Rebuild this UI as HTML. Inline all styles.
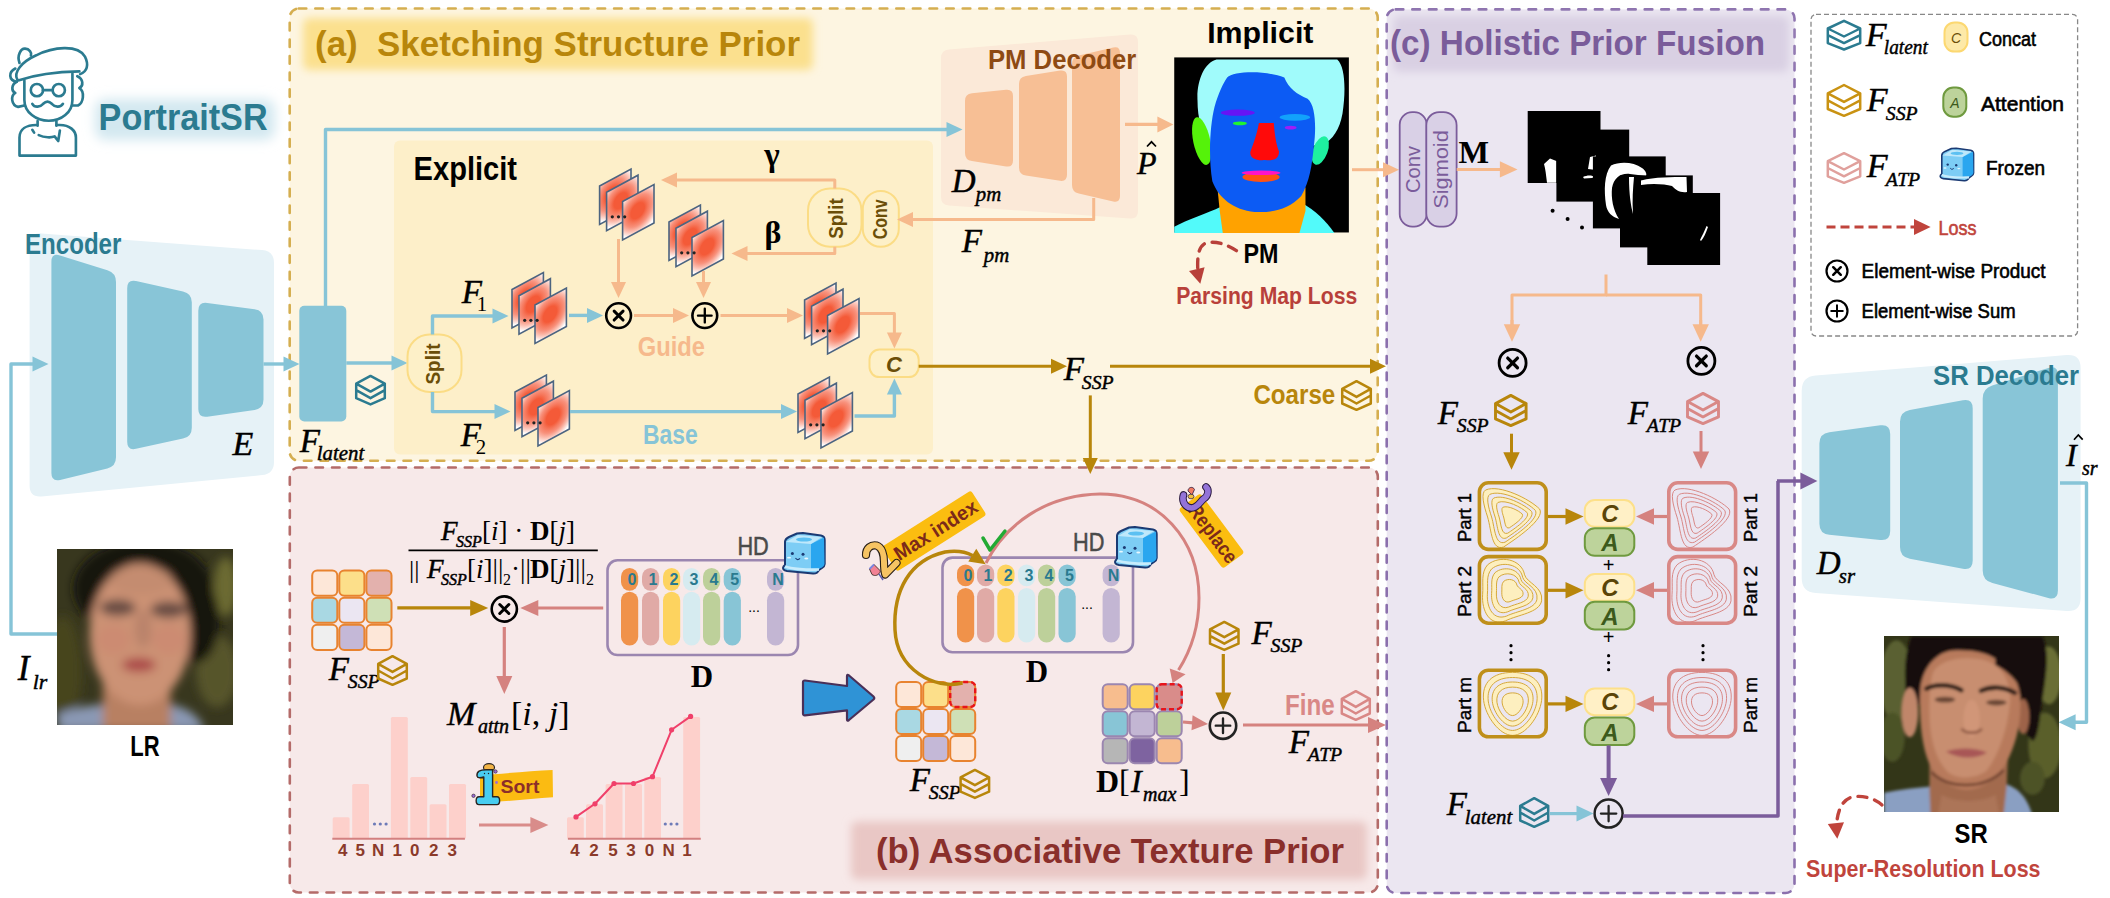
<!DOCTYPE html>
<html><head><meta charset="utf-8"><title>PortraitSR</title>
<style>html,body{margin:0;padding:0;background:#fff;overflow:hidden;width:2110px;height:898px}svg{display:block}text[font-style=italic][font-family*=Serif]{stroke:#000;stroke-width:0.45px}</style>
</head><body>
<svg width="2110" height="898" viewBox="0 0 2110 898">
<defs>
<filter id="blur4" x="-20%" y="-50%" width="140%" height="200%"><feGaussianBlur stdDeviation="4"/></filter>
<filter id="blur6" x="-20%" y="-50%" width="140%" height="200%"><feGaussianBlur stdDeviation="6"/></filter>
<filter id="blurLR" x="-10%" y="-10%" width="120%" height="120%"><feGaussianBlur stdDeviation="22"/></filter>
<filter id="blurSR" x="-10%" y="-10%" width="120%" height="120%"><feGaussianBlur stdDeviation="9"/></filter>
<radialGradient id="heat" cx="0.5" cy="0.5" r="0.5">
 <stop offset="0" stop-color="#f45a38"/><stop offset="0.3" stop-color="#f45a38"/>
 <stop offset="0.45" stop-color="#f6765a"/><stop offset="0.62" stop-color="#f8917c"/>
 <stop offset="0.78" stop-color="#fbbcae"/><stop offset="0.92" stop-color="#fee6e0"/><stop offset="1" stop-color="#ffffff"/>
</radialGradient>
<clipPath id="unitclip" clipPathUnits="userSpaceOnUse"><rect x="0" y="0" width="1" height="1"/></clipPath>
<clipPath id="clipLR"><rect x="57" y="549" width="176" height="176"/></clipPath>
<clipPath id="clipSR"><rect x="1884" y="636" width="175" height="176"/></clipPath>
<clipPath id="clipPM"><rect x="1174" y="57" width="175" height="176"/></clipPath>
</defs>
<rect x="289.7" y="8.5" width="1088" height="452.3" rx="9" fill="#fdf5e1" stroke="#d5ae50" stroke-width="2.6" stroke-dasharray="7.6 9" stroke-linecap="round"/>
<rect x="289.8" y="467.5" width="1088" height="425" rx="9" fill="#f7e9e9" stroke="#b46b69" stroke-width="2.6" stroke-dasharray="7.6 9" stroke-linecap="round"/>
<rect x="1386.7" y="9.4" width="407.79999999999995" height="883.6" rx="9" fill="#ebe6f1" stroke="#8b70ad" stroke-width="2.6" stroke-dasharray="7.6 9" stroke-linecap="round"/>
<rect x="303" y="18" width="510" height="52" rx="6" fill="#fbe08e" stroke="none" stroke-width="0" filter="url(#blur4)"/>
<rect x="851" y="821.5" width="516" height="58" rx="6" fill="#e9c7c5" stroke="none" stroke-width="0" filter="url(#blur4)"/>
<rect x="1393" y="16" width="396" height="56" rx="6" fill="#d9d0e3" stroke="none" stroke-width="0" filter="url(#blur4)"/>
<text x="315" y="56" font-family="'Liberation Sans', sans-serif" font-size="35" font-weight="bold" font-style="normal" fill="#b8860b" text-anchor="start" textLength="485" lengthAdjust="spacingAndGlyphs" >(a)&#160;&#160;Sketching Structure Prior</text>
<text x="876" y="863" font-family="'Liberation Sans', sans-serif" font-size="35" font-weight="bold" font-style="normal" fill="#8a2f2b" text-anchor="start" textLength="468" lengthAdjust="spacingAndGlyphs" >(b) Associative Texture Prior</text>
<text x="1390" y="55" font-family="'Liberation Sans', sans-serif" font-size="35" font-weight="bold" font-style="normal" fill="#7a5c9a" text-anchor="start" textLength="375" lengthAdjust="spacingAndGlyphs" >(c) Holistic Prior Fusion</text>
<rect x="394" y="140.5" width="539" height="314" rx="6" fill="#fdefc9" stroke="none" stroke-width="0" />
<rect x="95" y="99" width="180" height="41" rx="10" fill="#d3e8f0" filter="url(#blur6)"/>
<text x="98.6" y="130" font-family="'Liberation Sans', sans-serif" font-size="37" font-weight="bold" font-style="normal" fill="#2b7b90" text-anchor="start" textLength="169" lengthAdjust="spacingAndGlyphs" >PortraitSR</text>
<g transform="translate(0,40) scale(0.13928)" fill="none" stroke="#2b7b90" stroke-width="19" stroke-linecap="round" stroke-linejoin="round">
<path d="M125,285 C95,235 150,160 260,110 C380,50 560,30 610,120 C640,180 625,225 575,245"/>
<path d="M130,290 C250,250 420,228 570,225"/>
<path d="M140,165 C120,110 150,60 180,62 C210,64 230,90 222,112"/>
<path d="M110,205 C60,230 60,290 120,300"/>
<path d="M175,290 L175,430 C175,520 260,580 350,580 C440,580 520,520 520,430 L520,240"/>
<path d="M120,300 C80,320 80,370 110,380 C75,400 80,470 130,480 L175,470"/>
<path d="M555,260 C600,280 600,330 570,345 C610,370 600,450 560,470 L520,470"/>
<circle cx="265" cy="360" r="44"/><circle cx="422" cy="360" r="44"/>
<path d="M309,360 L378,360"/>
<path d="M232,458 C250,490 290,480 310,458 C330,438 352,438 372,458 C392,480 432,490 452,458"/>
<path d="M270,582 L270,615 M405,582 L405,615"/>
<path d="M260,610 C190,610 140,640 140,700 L140,830 L545,830 L545,700 C545,650 500,610 430,610 L405,610"/>
<path d="M232,645 L245,665 M278,683 C320,702 370,702 392,692 L418,725 L430,650"/>
</g>
<path d="M29.6,244.5 Q29.6,232.5 41.6,233.4 L262.0,250.1 Q274.0,251.0 274.0,263.0 L274.0,462.0 Q274.0,474.0 262.1,475.1 L41.5,496.4 Q29.6,497.5 29.6,485.5 Z" fill="#e6f2f7" />
<text x="25" y="253.5" font-family="'Liberation Sans', sans-serif" font-size="30" font-weight="bold" font-style="normal" fill="#2b7b90" text-anchor="start" textLength="96.4" lengthAdjust="spacingAndGlyphs" >Encoder</text>
<path d="M51.4,261.7 Q51.4,252.7 60.0,255.4 L107.4,270.3 Q116.0,273.0 116.0,282.0 L116.0,457.3 Q116.0,466.3 107.3,468.4 L60.1,479.9 Q51.4,482.0 51.4,473.0 Z" fill="#88c5d7" />
<path d="M127.2,288.2 Q127.2,279.2 136.0,281.1 L183.0,291.4 Q191.8,293.3 191.8,302.3 L191.8,427.7 Q191.8,436.7 183.0,438.6 L136.0,448.8 Q127.2,450.7 127.2,441.7 Z" fill="#88c5d7" />
<path d="M198.3,310.7 Q198.3,301.7 207.2,302.9 L254.6,309.2 Q263.5,310.4 263.5,319.4 L263.5,399.6 Q263.5,408.6 254.6,409.9 L207.2,416.7 Q198.3,418.0 198.3,409.0 Z" fill="#88c5d7" />
<text x="232.5" y="454.9" font-family="'Liberation Serif', serif" font-style="italic" font-size="34">E</text>
<polyline points="57.0,634.0 11.0,634.0 11.0,364.0 33.5,364.0" fill="none" stroke="#86c4d7" stroke-width="3.4" stroke-linejoin="round" />
<polygon points="48.5,364.0 32.5,371.5 32.5,356.5" fill="#86c4d7" stroke="none" stroke-width="0" />
<polyline points="263.5,364.0 284.5,364.0" fill="none" stroke="#86c4d7" stroke-width="3.4" stroke-linejoin="round" />
<polygon points="299.5,364.0 283.5,371.5 283.5,356.5" fill="#86c4d7" stroke="none" stroke-width="0" />
<rect x="299.3" y="305.8" width="47" height="115.6" rx="5" fill="#88c5d7" stroke="none" stroke-width="0" />
<text x="299.8" y="452" font-family="'Liberation Serif', serif" font-style="italic" font-size="33.02" fill="#000">F</text>
<text x="316.8" y="460" font-family="'Liberation Serif', serif" font-style="italic" font-size="20.8" fill="#000">latent</text>
<path d="M370.5,375.9 L384.8,383.6 L370.5,391.6 L356.2,383.6 Z M356.2,390.2 L370.5,398.2 L384.8,390.2 M356.2,383.6 L356.2,398.2 L370.5,404.4 L384.8,398.2 L384.8,383.6" fill="none" stroke="#2b7b90" stroke-width="2.5" stroke-linejoin="round"/>
<polyline points="346.3,363.0 392.5,363.0" fill="none" stroke="#86c4d7" stroke-width="3.4" stroke-linejoin="round" />
<polygon points="407.5,363.0 391.5,370.5 391.5,355.5" fill="#86c4d7" stroke="none" stroke-width="0" />
<text x="413.6" y="180" font-family="'Liberation Sans', sans-serif" font-size="34" font-weight="bold" font-style="normal" fill="#000" text-anchor="start" textLength="103.4" lengthAdjust="spacingAndGlyphs" >Explicit</text>
<g transform="matrix(31.4,-17,0,38.5,512,289.5)">
<rect x="0" y="0" width="1" height="1" fill="#fff"/>
<ellipse cx="0.4" cy="0.4" rx="0.72" ry="0.62" fill="url(#heat)" clip-path="url(#unitclip)"/>
<rect x="0" y="0" width="1" height="1" fill="none" stroke="#4c6480" stroke-width="1.6" vector-effect="non-scaling-stroke"/>
</g>
<g transform="matrix(31.4,-17,0,38.5,519,295.7)">
<rect x="0" y="0" width="1" height="1" fill="#fff"/>
<ellipse cx="0.45" cy="0.42" rx="0.72" ry="0.62" fill="url(#heat)" clip-path="url(#unitclip)"/>
<rect x="0" y="0" width="1" height="1" fill="none" stroke="#4c6480" stroke-width="1.6" vector-effect="non-scaling-stroke"/>
</g>
<g transform="matrix(31.4,-17,0,38.5,535,305.0)">
<rect x="0" y="0" width="1" height="1" fill="#fff"/>
<ellipse cx="0.48" cy="0.45" rx="0.72" ry="0.62" fill="url(#heat)" clip-path="url(#unitclip)"/>
<rect x="0" y="0" width="1" height="1" fill="none" stroke="#4c6480" stroke-width="1.6" vector-effect="non-scaling-stroke"/>
</g>
<circle cx="524.7" cy="320.3" r="1.6" fill="#222"/>
<circle cx="530.9" cy="320.3" r="1.6" fill="#222"/>
<circle cx="537.1" cy="320.3" r="1.6" fill="#222"/>
<g transform="matrix(31.4,-17,0,38.5,515,392)">
<rect x="0" y="0" width="1" height="1" fill="#fff"/>
<ellipse cx="0.4" cy="0.4" rx="0.72" ry="0.62" fill="url(#heat)" clip-path="url(#unitclip)"/>
<rect x="0" y="0" width="1" height="1" fill="none" stroke="#4c6480" stroke-width="1.6" vector-effect="non-scaling-stroke"/>
</g>
<g transform="matrix(31.4,-17,0,38.5,522,398.2)">
<rect x="0" y="0" width="1" height="1" fill="#fff"/>
<ellipse cx="0.45" cy="0.42" rx="0.72" ry="0.62" fill="url(#heat)" clip-path="url(#unitclip)"/>
<rect x="0" y="0" width="1" height="1" fill="none" stroke="#4c6480" stroke-width="1.6" vector-effect="non-scaling-stroke"/>
</g>
<g transform="matrix(31.4,-17,0,38.5,538,407.5)">
<rect x="0" y="0" width="1" height="1" fill="#fff"/>
<ellipse cx="0.48" cy="0.45" rx="0.72" ry="0.62" fill="url(#heat)" clip-path="url(#unitclip)"/>
<rect x="0" y="0" width="1" height="1" fill="none" stroke="#4c6480" stroke-width="1.6" vector-effect="non-scaling-stroke"/>
</g>
<circle cx="527.7" cy="422.8" r="1.6" fill="#222"/>
<circle cx="533.9" cy="422.8" r="1.6" fill="#222"/>
<circle cx="540.1" cy="422.8" r="1.6" fill="#222"/>
<g transform="matrix(31.4,-17,0,38.5,599.6,186)">
<rect x="0" y="0" width="1" height="1" fill="#fff"/>
<ellipse cx="0.4" cy="0.4" rx="0.72" ry="0.62" fill="url(#heat)" clip-path="url(#unitclip)"/>
<rect x="0" y="0" width="1" height="1" fill="none" stroke="#4c6480" stroke-width="1.6" vector-effect="non-scaling-stroke"/>
</g>
<g transform="matrix(31.4,-17,0,38.5,606.6,192.2)">
<rect x="0" y="0" width="1" height="1" fill="#fff"/>
<ellipse cx="0.45" cy="0.42" rx="0.72" ry="0.62" fill="url(#heat)" clip-path="url(#unitclip)"/>
<rect x="0" y="0" width="1" height="1" fill="none" stroke="#4c6480" stroke-width="1.6" vector-effect="non-scaling-stroke"/>
</g>
<g transform="matrix(31.4,-17,0,38.5,622.6,201.5)">
<rect x="0" y="0" width="1" height="1" fill="#fff"/>
<ellipse cx="0.48" cy="0.45" rx="0.72" ry="0.62" fill="url(#heat)" clip-path="url(#unitclip)"/>
<rect x="0" y="0" width="1" height="1" fill="none" stroke="#4c6480" stroke-width="1.6" vector-effect="non-scaling-stroke"/>
</g>
<circle cx="612.3" cy="216.8" r="1.6" fill="#222"/>
<circle cx="618.5" cy="216.8" r="1.6" fill="#222"/>
<circle cx="624.7" cy="216.8" r="1.6" fill="#222"/>
<g transform="matrix(31.4,-17,0,38.5,669,222)">
<rect x="0" y="0" width="1" height="1" fill="#fff"/>
<ellipse cx="0.4" cy="0.4" rx="0.72" ry="0.62" fill="url(#heat)" clip-path="url(#unitclip)"/>
<rect x="0" y="0" width="1" height="1" fill="none" stroke="#4c6480" stroke-width="1.6" vector-effect="non-scaling-stroke"/>
</g>
<g transform="matrix(31.4,-17,0,38.5,676,228.2)">
<rect x="0" y="0" width="1" height="1" fill="#fff"/>
<ellipse cx="0.45" cy="0.42" rx="0.72" ry="0.62" fill="url(#heat)" clip-path="url(#unitclip)"/>
<rect x="0" y="0" width="1" height="1" fill="none" stroke="#4c6480" stroke-width="1.6" vector-effect="non-scaling-stroke"/>
</g>
<g transform="matrix(31.4,-17,0,38.5,692,237.5)">
<rect x="0" y="0" width="1" height="1" fill="#fff"/>
<ellipse cx="0.48" cy="0.45" rx="0.72" ry="0.62" fill="url(#heat)" clip-path="url(#unitclip)"/>
<rect x="0" y="0" width="1" height="1" fill="none" stroke="#4c6480" stroke-width="1.6" vector-effect="non-scaling-stroke"/>
</g>
<circle cx="681.7" cy="252.8" r="1.6" fill="#222"/>
<circle cx="687.9" cy="252.8" r="1.6" fill="#222"/>
<circle cx="694.1" cy="252.8" r="1.6" fill="#222"/>
<g transform="matrix(31.4,-17,0,38.5,804.6,300)">
<rect x="0" y="0" width="1" height="1" fill="#fff"/>
<ellipse cx="0.4" cy="0.4" rx="0.72" ry="0.62" fill="url(#heat)" clip-path="url(#unitclip)"/>
<rect x="0" y="0" width="1" height="1" fill="none" stroke="#4c6480" stroke-width="1.6" vector-effect="non-scaling-stroke"/>
</g>
<g transform="matrix(31.4,-17,0,38.5,811.6,306.2)">
<rect x="0" y="0" width="1" height="1" fill="#fff"/>
<ellipse cx="0.45" cy="0.42" rx="0.72" ry="0.62" fill="url(#heat)" clip-path="url(#unitclip)"/>
<rect x="0" y="0" width="1" height="1" fill="none" stroke="#4c6480" stroke-width="1.6" vector-effect="non-scaling-stroke"/>
</g>
<g transform="matrix(31.4,-17,0,38.5,827.6,315.5)">
<rect x="0" y="0" width="1" height="1" fill="#fff"/>
<ellipse cx="0.48" cy="0.45" rx="0.72" ry="0.62" fill="url(#heat)" clip-path="url(#unitclip)"/>
<rect x="0" y="0" width="1" height="1" fill="none" stroke="#4c6480" stroke-width="1.6" vector-effect="non-scaling-stroke"/>
</g>
<circle cx="817.3" cy="330.8" r="1.6" fill="#222"/>
<circle cx="823.5" cy="330.8" r="1.6" fill="#222"/>
<circle cx="829.7" cy="330.8" r="1.6" fill="#222"/>
<g transform="matrix(31.4,-17,0,38.5,798,394)">
<rect x="0" y="0" width="1" height="1" fill="#fff"/>
<ellipse cx="0.4" cy="0.4" rx="0.72" ry="0.62" fill="url(#heat)" clip-path="url(#unitclip)"/>
<rect x="0" y="0" width="1" height="1" fill="none" stroke="#4c6480" stroke-width="1.6" vector-effect="non-scaling-stroke"/>
</g>
<g transform="matrix(31.4,-17,0,38.5,805,400.2)">
<rect x="0" y="0" width="1" height="1" fill="#fff"/>
<ellipse cx="0.45" cy="0.42" rx="0.72" ry="0.62" fill="url(#heat)" clip-path="url(#unitclip)"/>
<rect x="0" y="0" width="1" height="1" fill="none" stroke="#4c6480" stroke-width="1.6" vector-effect="non-scaling-stroke"/>
</g>
<g transform="matrix(31.4,-17,0,38.5,821,409.5)">
<rect x="0" y="0" width="1" height="1" fill="#fff"/>
<ellipse cx="0.48" cy="0.45" rx="0.72" ry="0.62" fill="url(#heat)" clip-path="url(#unitclip)"/>
<rect x="0" y="0" width="1" height="1" fill="none" stroke="#4c6480" stroke-width="1.6" vector-effect="non-scaling-stroke"/>
</g>
<circle cx="810.7" cy="424.8" r="1.6" fill="#222"/>
<circle cx="816.9" cy="424.8" r="1.6" fill="#222"/>
<circle cx="823.1" cy="424.8" r="1.6" fill="#222"/>
<rect x="407.5" y="334.5" width="54" height="57.5" rx="22" fill="#fdf0c8" stroke="#fbdc85" stroke-width="2" />
<text transform="translate(440,364) rotate(-90)" font-family="'Liberation Sans', sans-serif" font-size="20" font-weight="bold" fill="#6b4e08" text-anchor="middle" textLength="41" lengthAdjust="spacingAndGlyphs">Split</text>
<polyline points="432.5,334.5 432.5,316.0 493.5,316.0" fill="none" stroke="#86c4d7" stroke-width="3.4" stroke-linejoin="round" />
<polygon points="508.5,316.0 492.5,323.5 492.5,308.5" fill="#86c4d7" stroke="none" stroke-width="0" />
<polyline points="432.5,392.0 432.5,411.6 495.5,411.6" fill="none" stroke="#86c4d7" stroke-width="3.4" stroke-linejoin="round" />
<polygon points="510.5,411.6 494.5,419.1 494.5,404.1" fill="#86c4d7" stroke="none" stroke-width="0" />
<text x="461.8" y="303" font-family="'Liberation Serif', serif" font-style="italic" font-size="33.02" fill="#000">F</text>
<text x="476.8" y="311" font-family="'Liberation Serif', serif" font-style="normal" font-size="20.8" fill="#000">1</text>
<text x="460.8" y="446" font-family="'Liberation Serif', serif" font-style="italic" font-size="33.02" fill="#000">F</text>
<text x="475.8" y="454" font-family="'Liberation Serif', serif" font-style="normal" font-size="20.8" fill="#000">2</text>
<circle cx="618.6" cy="315.6" r="12.4" fill="none" stroke="#000" stroke-width="2.6"/>
<path d="M614.136,311.136 L623.0640000000001,320.064 M614.136,320.064 L623.0640000000001,311.136" stroke="#000" stroke-width="2.9899999999999998" stroke-linecap="round"/>
<circle cx="704.8" cy="315.6" r="12.4" fill="none" stroke="#000" stroke-width="2.6"/>
<path d="M697.9799999999999,315.6 L711.62,315.6 M704.8,308.78000000000003 L704.8,322.42" stroke="#000" stroke-width="2.3400000000000003" stroke-linecap="round"/>
<polyline points="569.0,315.4 588.0,315.4" fill="none" stroke="#86c4d7" stroke-width="3.4" stroke-linejoin="round" />
<polygon points="603.0,315.4 587.0,322.9 587.0,307.9" fill="#86c4d7" stroke="none" stroke-width="0" />
<polyline points="634.0,315.4 674.0,315.4" fill="none" stroke="#f6b98c" stroke-width="3" stroke-linejoin="round" />
<polygon points="689.0,315.4 673.0,322.9 673.0,307.9" fill="#f6b98c" stroke="none" stroke-width="0" />
<polyline points="720.5,315.4 788.0,315.4" fill="none" stroke="#f6b98c" stroke-width="3" stroke-linejoin="round" />
<polygon points="803.0,315.4 787.0,322.9 787.0,307.9" fill="#f6b98c" stroke="none" stroke-width="0" />
<polyline points="618.5,239.0 618.5,283.0" fill="none" stroke="#f6b98c" stroke-width="3" stroke-linejoin="round" />
<polygon points="618.5,298.0 611.0,282.0 626.0,282.0" fill="#f6b98c" stroke="none" stroke-width="0" />
<polyline points="703.5,271.0 703.5,283.0" fill="none" stroke="#f6b98c" stroke-width="3" stroke-linejoin="round" />
<polygon points="703.5,298.0 696.0,282.0 711.0,282.0" fill="#f6b98c" stroke="none" stroke-width="0" />
<rect x="808" y="188.5" width="53.5" height="58.2" rx="22" fill="#fdf0c8" stroke="#fbdc85" stroke-width="2" />
<rect x="862.8" y="191" width="36" height="55.8" rx="18" fill="#fdf0c8" stroke="#fbdc85" stroke-width="2" />
<text transform="translate(843,218.5) rotate(-90)" font-family="'Liberation Sans', sans-serif" font-size="20" font-weight="bold" fill="#6b4e08" text-anchor="middle" textLength="40.5" lengthAdjust="spacingAndGlyphs">Split</text>
<text transform="translate(887,219.3) rotate(-90)" font-family="'Liberation Sans', sans-serif" font-size="20" font-weight="bold" fill="#6b4e08" text-anchor="middle" textLength="40" lengthAdjust="spacingAndGlyphs">Conv</text>
<polyline points="834.8,188.5 834.8,180.0 676.0,180.0" fill="none" stroke="#f6b98c" stroke-width="3" stroke-linejoin="round" />
<polygon points="661.0,180.0 677.0,172.5 677.0,187.5" fill="#f6b98c" stroke="none" stroke-width="0" />
<polyline points="834.8,246.7 834.8,253.5 746.5,253.5" fill="none" stroke="#f6b98c" stroke-width="3" stroke-linejoin="round" />
<polygon points="731.5,253.5 747.5,246.0 747.5,261.0" fill="#f6b98c" stroke="none" stroke-width="0" />
<text x="772" y="166" font-family="'Liberation Serif', serif" font-size="33" font-weight="bold" text-anchor="middle">&#947;</text>
<text x="773" y="243" font-family="'Liberation Serif', serif" font-size="32" font-weight="bold" text-anchor="middle">&#946;</text>
<rect x="869.5" y="349.6" width="49.2" height="27.5" rx="10" fill="#fdf0c8" stroke="#fbdc85" stroke-width="2" />
<text x="894" y="372" font-family="'Liberation Sans', sans-serif" font-size="22" font-style="italic" font-weight="bold" fill="#6b4e08" text-anchor="middle">C</text>
<polyline points="860.0,313.6 894.4,313.6 894.4,333.5" fill="none" stroke="#f6b98c" stroke-width="3" stroke-linejoin="round" />
<polygon points="894.4,348.5 886.9,332.5 901.9,332.5" fill="#f6b98c" stroke="none" stroke-width="0" />
<polyline points="854.5,416.0 894.4,416.0 894.4,393.5" fill="none" stroke="#86c4d7" stroke-width="3.4" stroke-linejoin="round" />
<polygon points="894.4,378.5 901.9,394.5 886.9,394.5" fill="#86c4d7" stroke="none" stroke-width="0" />
<polyline points="570.0,411.6 782.0,411.6" fill="none" stroke="#86c4d7" stroke-width="3.4" stroke-linejoin="round" />
<polygon points="797.0,411.6 781.0,419.1 781.0,404.1" fill="#86c4d7" stroke="none" stroke-width="0" />
<text x="637.8" y="356.3" font-family="'Liberation Sans', sans-serif" font-size="28" font-weight="bold" font-style="normal" fill="#f6b98c" text-anchor="start" textLength="67.2" lengthAdjust="spacingAndGlyphs" >Guide</text>
<text x="643" y="444" font-family="'Liberation Sans', sans-serif" font-size="28.5" font-weight="bold" font-style="normal" fill="#86c4d7" text-anchor="start" textLength="54.7" lengthAdjust="spacingAndGlyphs" >Base</text>
<polyline points="918.7,366.2 1052.0,366.2" fill="none" stroke="#b8860b" stroke-width="3" stroke-linejoin="round" />
<polygon points="1067.0,366.2 1051.0,373.7 1051.0,358.7" fill="#b8860b" stroke="none" stroke-width="0" />
<text x="1063.8" y="380" font-family="'Liberation Serif', serif" font-style="italic" font-size="33.02" fill="#000">F</text>
<text x="1081.8" y="389" font-family="'Liberation Serif', serif" font-style="italic" font-size="19.76" fill="#000">SSP</text>
<polyline points="1110.0,366.2 1371.0,366.2" fill="none" stroke="#b8860b" stroke-width="3" stroke-linejoin="round" />
<polygon points="1386.0,366.2 1370.0,373.7 1370.0,358.7" fill="#b8860b" stroke="none" stroke-width="0" />
<polyline points="1090.3,395.4 1090.3,459.0" fill="none" stroke="#b8860b" stroke-width="3" stroke-linejoin="round" />
<polygon points="1090.3,474.0 1082.8,458.0 1097.8,458.0" fill="#b8860b" stroke="none" stroke-width="0" />
<text x="1253.4" y="404.3" font-family="'Liberation Sans', sans-serif" font-size="28.5" font-weight="bold" font-style="normal" fill="#b8860b" text-anchor="start" textLength="81.9" lengthAdjust="spacingAndGlyphs" >Coarse</text>
<path d="M1356.5,381.2 L1370.8,388.9 L1356.5,396.9 L1342.2,388.9 Z M1342.2,395.5 L1356.5,403.5 L1370.8,395.5 M1342.2,388.9 L1342.2,403.5 L1356.5,409.8 L1370.8,403.5 L1370.8,388.9" fill="none" stroke="#b8860b" stroke-width="2.5" stroke-linejoin="round"/>
<path d="M941.0,58.0 Q941.0,50.0 949.0,49.4 L1130.0,34.6 Q1138.0,34.0 1138.0,42.0 L1138.0,211.0 Q1138.0,219.0 1130.0,218.4 L949.0,205.6 Q941.0,205.0 941.0,197.0 Z" fill="#fbe9d8" />
<path d="M965.0,101.0 Q965.0,94.0 972.0,93.3 L1006.0,89.7 Q1013.0,89.0 1013.0,96.0 L1013.0,160.5 Q1013.0,167.5 1006.1,166.4 L971.9,161.1 Q965.0,160.0 965.0,153.0 Z" fill="#f7bf95" />
<path d="M1019.0,84.0 Q1019.0,77.0 1025.9,75.9 L1060.1,70.6 Q1067.0,69.5 1067.0,76.5 L1067.0,174.8 Q1067.0,181.8 1060.1,180.8 L1025.9,175.6 Q1019.0,174.6 1019.0,167.6 Z" fill="#f7bf95" />
<path d="M1072.0,64.0 Q1072.0,57.0 1078.8,55.4 L1113.2,47.6 Q1120.0,46.0 1120.0,53.0 L1120.0,196.0 Q1120.0,203.0 1113.2,201.4 L1078.8,193.6 Q1072.0,192.0 1072.0,185.0 Z" fill="#f7bf95" />
<polyline points="325.5,306.0 325.5,129.5 947.5,129.5" fill="none" stroke="#86c4d7" stroke-width="3.4" stroke-linejoin="round" />
<polygon points="962.5,129.5 946.5,137.0 946.5,122.0" fill="#86c4d7" stroke="none" stroke-width="0" />
<text x="988" y="69.1" font-family="'Liberation Sans', sans-serif" font-size="26.8" font-weight="bold" font-style="normal" fill="#8e4a13" text-anchor="start" textLength="148.3" lengthAdjust="spacingAndGlyphs" >PM Decoder</text>
<text x="951.8" y="192" font-family="'Liberation Serif', serif" font-style="italic" font-size="33.02" fill="#000">D</text>
<text x="975.8" y="201" font-family="'Liberation Serif', serif" font-style="italic" font-size="20.8" fill="#000">pm</text>
<text x="961.8" y="252" font-family="'Liberation Serif', serif" font-style="italic" font-size="33.02" fill="#000">F</text>
<text x="983.8" y="262" font-family="'Liberation Serif', serif" font-style="italic" font-size="20.8" fill="#000">pm</text>
<polyline points="1093.7,198.0 1093.7,219.4 912.0,219.4" fill="none" stroke="#f6b98c" stroke-width="3" stroke-linejoin="round" />
<polyline points="913.0,219.4 912.0,219.4" fill="none" stroke="#f6b98c" stroke-width="3" stroke-linejoin="round" />
<polygon points="897.0,219.4 913.0,211.9 913.0,226.9" fill="#f6b98c" stroke="none" stroke-width="0" />
<polyline points="1125.0,124.4 1158.4,124.4" fill="none" stroke="#f6b98c" stroke-width="3.2" stroke-linejoin="round" />
<polygon points="1173.4,124.4 1157.4,132.4 1157.4,116.4" fill="#f6b98c" stroke="none" stroke-width="0" />
<text x="1137" y="173.7" font-family="'Liberation Serif', serif" font-size="32" font-style="italic">P</text>
<path d="M1147,146.5 L1151.5,141.8 L1156,146.5" fill="none" stroke="#000" stroke-width="1.7"/>
<text x="1207.2" y="43.4" font-family="'Liberation Sans', sans-serif" font-size="30.4" font-weight="bold" font-style="normal" fill="#000" text-anchor="start" textLength="106.3" lengthAdjust="spacingAndGlyphs" >Implicit</text>
<g clip-path="url(#clipPM)"><g transform="translate(1170,50) scale(0.21168)">
<rect x="20" y="35" width="825" height="827" fill="#000"/>
<path d="M130,240 C125,150 160,60 220,45 L790,45 C830,80 830,200 815,300 C800,380 770,420 720,450 L200,470 C150,400 130,320 130,240 Z" fill="#a0fbfb"/>
<path d="M20,835 C80,800 180,770 240,740 L260,870 L20,870 Z" fill="#52fafa"/>
<path d="M620,720 C690,760 740,810 780,870 L590,870 Z" fill="#52fafa"/>
<path d="M225,660 L640,650 L640,760 L610,870 L250,870 L235,760 Z" fill="#ffa200"/>
<ellipse cx="150" cy="430" rx="40" ry="115" transform="rotate(-12 150 430)" fill="#55f20a"/>
<ellipse cx="710" cy="475" rx="35" ry="70" transform="rotate(20 710 475)" fill="#1ef0a0"/>
<path d="M270,130 C300,100 450,95 540,130 C560,180 600,210 650,230 C690,260 690,380 680,450 C670,550 660,620 620,690 C560,755 480,770 400,765 C300,755 230,700 200,620 C180,500 190,350 210,270 C230,200 250,160 270,130 Z" fill="#0c5bf4"/>
<ellipse cx="320" cy="296" rx="80" ry="15" fill="#6515f5"/>
<ellipse cx="590" cy="318" rx="72" ry="16" fill="#12a2fb"/>
<ellipse cx="330" cy="347" rx="33" ry="9" fill="#20f530"/>
<ellipse cx="570" cy="367" rx="28" ry="9" fill="#a01ef5"/>
<path d="M420,345 L490,345 C495,400 500,440 515,480 C515,515 490,525 450,520 C400,525 375,505 380,480 C395,440 410,400 420,345 Z" fill="#ff0a0a"/>
<ellipse cx="430" cy="600" rx="88" ry="24" fill="#ff5312"/>
<ellipse cx="430" cy="580" rx="92" ry="11" fill="#ff14c8"/>
</g></g>
<text x="1243.5" y="263" font-family="'Liberation Sans', sans-serif" font-size="28" font-weight="bold" font-style="normal" fill="#000" text-anchor="start" textLength="35" lengthAdjust="spacingAndGlyphs" >PM</text>
<path d="M1236.4,250.6 C1226,244 1214,240 1205,243.5 C1198,247 1197.5,258 1197.7,268" fill="none" stroke="#b8403a" stroke-width="3.4" stroke-dasharray="9 8" stroke-linecap="round"/>
<polygon points="1200.3,283.8 1189.0,271.0 1204.6,267.2" fill="#b8403a" stroke="none" stroke-width="0" />
<text x="1176.2" y="303.7" font-family="'Liberation Sans', sans-serif" font-size="23.3" font-weight="bold" font-style="normal" fill="#b8403a" text-anchor="start" textLength="181" lengthAdjust="spacingAndGlyphs" >Parsing Map Loss</text>
<polyline points="1352.0,169.7 1384.0,169.7" fill="none" stroke="#f6b98c" stroke-width="3" stroke-linejoin="round" />
<polygon points="1399.0,169.7 1383.0,177.2 1383.0,162.2" fill="#f6b98c" stroke="none" stroke-width="0" />
<rect x="1399.7" y="112.2" width="27" height="114.4" rx="12.5" fill="#d9d0e6" stroke="#7b5c9b" stroke-width="1.8" />
<rect x="1426.3" y="112.2" width="30.3" height="114.4" rx="13" fill="#d9d0e6" stroke="#7b5c9b" stroke-width="1.8" />
<text transform="translate(1420,169.5) rotate(-90)" font-family="'Liberation Sans', sans-serif" font-size="20" fill="#7b5c9b" text-anchor="middle" textLength="47" lengthAdjust="spacingAndGlyphs">Conv</text>
<text transform="translate(1447.5,169.5) rotate(-90)" font-family="'Liberation Sans', sans-serif" font-size="20" fill="#7b5c9b" text-anchor="middle" textLength="78.6" lengthAdjust="spacingAndGlyphs">Sigmoid</text>
<text x="1458.5" y="162.7" font-family="'Liberation Serif', serif" font-size="32" font-weight="bold" textLength="30.5" lengthAdjust="spacingAndGlyphs">M</text>
<polyline points="1456.7,169.4 1500.9,169.4" fill="none" stroke="#f6b98c" stroke-width="3" stroke-linejoin="round" />
<polygon points="1517.5,169.4 1499.9,177.6 1499.9,161.2" fill="#f6b98c" stroke="none" stroke-width="0" />
<rect x="1527.7" y="111" width="72.8" height="72" fill="#000"/>
<path d="M1544,164 L1550,158.5 L1556.4,161 L1556.4,182.8 L1547,182.8 C1546,175 1545.5,169 1544,164 Z" fill="#fff"/>
<rect x="1556.4" y="129.6" width="72.8" height="72" fill="#000"/>
<path d="M1590,157 L1596,155.5 L1596,170 L1588,169 Z M1583,177 C1587,175 1592,175 1595,177 L1592,178 L1584,178.5 Z" fill="#fff"/>
<rect x="1592.9" y="156.4" width="72.8" height="72" fill="#000"/>
<path d="M1611,165.5 C1620,161 1634,162 1642,168 C1646,171 1647,174 1646,176 L1630,174 C1620,173 1614,178 1612,188 C1611,198 1613,210 1619,219 C1612,217 1607,212 1606,205 C1604,190 1604,175 1611,165.5 Z" fill="#fff"/>
<rect x="1620" y="175.4" width="72.8" height="72" fill="#000"/>
<path d="M1641,180.5 C1655,177 1672,177 1686.5,177 L1687,192 C1680,193 1676,190 1672,186 C1665,184 1652,183 1641,185 Z M1629,177 L1634,177 C1633,188 1632,200 1633,214 C1631,206 1629,195 1629,177 Z" fill="#fff"/>
<rect x="1647.3" y="193" width="72.8" height="72" fill="#000"/>
<path d="M1706.5,226 L1708,227 C1706,233 1703.5,238 1701,241 L1700,240 C1702,236 1704.5,231 1706.5,226 Z" fill="#fff"/>
<circle cx="1552.6" cy="210.8" r="2" fill="#000"/>
<circle cx="1567.6" cy="219" r="2" fill="#000"/>
<circle cx="1582" cy="227.5" r="2" fill="#000"/>
<polyline points="1606.0,274.6 1606.0,295.0 1512.0,295.0 1512.0,325.0" fill="none" stroke="#f6b98c" stroke-width="3" stroke-linejoin="round" />
<polyline points="1606.0,295.0 1700.7,295.0 1700.7,325.0" fill="none" stroke="#f6b98c" stroke-width="3" stroke-linejoin="round" />
<polyline points="1512.0,320.0 1512.0,325.2" fill="none" stroke="#f6b98c" stroke-width="3" stroke-linejoin="round" />
<polygon points="1512.0,341.8 1503.8,324.2 1520.2,324.2" fill="#f6b98c" stroke="none" stroke-width="0" />
<polyline points="1700.7,320.0 1700.7,325.2" fill="none" stroke="#f6b98c" stroke-width="3" stroke-linejoin="round" />
<polygon points="1700.7,341.8 1692.5,324.2 1708.9,324.2" fill="#f6b98c" stroke="none" stroke-width="0" />
<circle cx="1512.6" cy="362.9" r="13.5" fill="none" stroke="#000" stroke-width="2.8"/>
<path d="M1507.74,358.03999999999996 L1517.4599999999998,367.76 M1507.74,367.76 L1517.4599999999998,358.03999999999996" stroke="#000" stroke-width="3.2199999999999998" stroke-linecap="round"/>
<circle cx="1701.4" cy="360.9" r="13.5" fill="none" stroke="#000" stroke-width="2.8"/>
<path d="M1696.5400000000002,356.03999999999996 L1706.26,365.76 M1696.5400000000002,365.76 L1706.26,356.03999999999996" stroke="#000" stroke-width="3.2199999999999998" stroke-linecap="round"/>
<text x="1437.8" y="424" font-family="'Liberation Serif', serif" font-style="italic" font-size="33.02" fill="#000">F</text>
<text x="1456.8" y="432" font-family="'Liberation Serif', serif" font-style="italic" font-size="19.76" fill="#000">SSP</text>
<path d="M1510.8,395.4 L1526.1,403.6 L1510.8,412.0 L1495.5,403.6 Z M1495.5,410.5 L1510.8,418.9 L1526.1,410.5 M1495.5,403.6 L1495.5,418.9 L1510.8,425.6 L1526.1,418.9 L1526.1,403.6" fill="none" stroke="#b8860b" stroke-width="2.9" stroke-linejoin="round"/>
<text x="1627.8" y="424" font-family="'Liberation Serif', serif" font-style="italic" font-size="33.02" fill="#000">F</text>
<text x="1646.8" y="432" font-family="'Liberation Serif', serif" font-style="italic" font-size="19.76" fill="#000">ATP</text>
<path d="M1703.0,393.4 L1718.5,401.6 L1703.0,410.0 L1687.5,401.6 Z M1687.5,408.5 L1703.0,416.9 L1718.5,408.5 M1687.5,401.6 L1687.5,416.9 L1703.0,423.6 L1718.5,416.9 L1718.5,401.6" fill="none" stroke="#d98886" stroke-width="2.9" stroke-linejoin="round"/>
<polyline points="1511.5,433.7 1511.5,453.2" fill="none" stroke="#b8860b" stroke-width="3" stroke-linejoin="round" />
<polygon points="1511.5,469.8 1503.3,452.2 1519.7,452.2" fill="#b8860b" stroke="none" stroke-width="0" />
<polyline points="1701.0,431.0 1701.0,452.4" fill="none" stroke="#d5827f" stroke-width="3" stroke-linejoin="round" />
<polygon points="1701.0,469.0 1692.8,451.4 1709.2,451.4" fill="#d5827f" stroke="none" stroke-width="0" />
<g transform="translate(1477.6,481)">
<path d="M8,9 C22,3 52,18 62,28 C68,38 38,58 26,66 C14,70 14,50 10,36 C6,24 3,12 8,9 Z" transform="translate(35,36) scale(1.0) translate(-35,-36)" fill="#fdefbf" stroke="#d6a93a" stroke-width="1.0"/>
<path d="M8,9 C22,3 52,18 62,28 C68,38 38,58 26,66 C14,70 14,50 10,36 C6,24 3,12 8,9 Z" transform="translate(35,36) scale(0.84) translate(-35,-36)" fill="#ebe6f1" stroke="#d6a93a" stroke-width="1.1904761904761905"/>
<path d="M8,9 C22,3 52,18 62,28 C68,38 38,58 26,66 C14,70 14,50 10,36 C6,24 3,12 8,9 Z" transform="translate(35,36) scale(0.7) translate(-35,-36)" fill="#fdefbf" stroke="#d6a93a" stroke-width="1.4285714285714286"/>
<path d="M8,9 C22,3 52,18 62,28 C68,38 38,58 26,66 C14,70 14,50 10,36 C6,24 3,12 8,9 Z" transform="translate(35,36) scale(0.54) translate(-35,-36)" fill="#ebe6f1" stroke="#d6a93a" stroke-width="1.8518518518518516"/>
<path d="M8,9 C22,3 52,18 62,28 C68,38 38,58 26,66 C14,70 14,50 10,36 C6,24 3,12 8,9 Z" transform="translate(35,36) scale(0.36) translate(-35,-36)" fill="#fdefbf" stroke="#d6a93a" stroke-width="2.7777777777777777"/>
</g>
<g transform="translate(1667,481)">
<path d="M8,9 C22,3 52,18 62,28 C68,38 38,58 26,66 C14,70 14,50 10,36 C6,24 3,12 8,9 Z" transform="translate(35,36) scale(1.0) translate(-35,-36)" fill="none" stroke="#d98886" stroke-width="1.0"/>
<path d="M8,9 C22,3 52,18 62,28 C68,38 38,58 26,66 C14,70 14,50 10,36 C6,24 3,12 8,9 Z" transform="translate(35,36) scale(0.84) translate(-35,-36)" fill="none" stroke="#d98886" stroke-width="1.1904761904761905"/>
<path d="M8,9 C22,3 52,18 62,28 C68,38 38,58 26,66 C14,70 14,50 10,36 C6,24 3,12 8,9 Z" transform="translate(35,36) scale(0.7) translate(-35,-36)" fill="none" stroke="#d98886" stroke-width="1.4285714285714286"/>
<path d="M8,9 C22,3 52,18 62,28 C68,38 38,58 26,66 C14,70 14,50 10,36 C6,24 3,12 8,9 Z" transform="translate(35,36) scale(0.54) translate(-35,-36)" fill="none" stroke="#d98886" stroke-width="1.8518518518518516"/>
<path d="M8,9 C22,3 52,18 62,28 C68,38 38,58 26,66 C14,70 14,50 10,36 C6,24 3,12 8,9 Z" transform="translate(35,36) scale(0.36) translate(-35,-36)" fill="none" stroke="#d98886" stroke-width="2.7777777777777777"/>
</g>
<rect x="1479.4" y="482.8" width="66.8" height="66.6" rx="9" fill="none" stroke="#bf8f1a" stroke-width="3.6" />
<rect x="1668.8" y="482.8" width="66.8" height="66.6" rx="9" fill="none" stroke="#d98886" stroke-width="3.6" />
<rect x="1584.8" y="500" width="49.5" height="26.8" rx="10" fill="#fff0c6" stroke="#fde08a" stroke-width="2" />
<rect x="1584.8" y="528.2" width="49.5" height="27.6" rx="10" fill="#bdd39b" stroke="#6f9a3f" stroke-width="2" />
<text x="1610" y="522" font-family="'Liberation Sans', sans-serif" font-size="24" font-style="italic" font-weight="bold" fill="#5a4408" text-anchor="middle">C</text>
<text x="1610" y="551.2" font-family="'Liberation Sans', sans-serif" font-size="24" font-style="italic" font-weight="bold" fill="#3d5a1c" text-anchor="middle">A</text>
<polyline points="1548.0,516.5 1566.5,516.5" fill="none" stroke="#b8860b" stroke-width="3.2" stroke-linejoin="round" />
<polygon points="1583.5,516.5 1565.5,524.7 1565.5,508.3" fill="#b8860b" stroke="none" stroke-width="0" />
<polyline points="1667.0,516.5 1653.0,516.5" fill="none" stroke="#d5827f" stroke-width="3.2" stroke-linejoin="round" />
<polygon points="1636.0,516.5 1654.0,508.3 1654.0,524.7" fill="#d5827f" stroke="none" stroke-width="0" />
<text transform="translate(1470.5,517.5) rotate(-90)" font-family="'Liberation Sans', sans-serif" font-size="19" fill="#000" stroke="#000" stroke-width="0.4" text-anchor="middle" textLength="49" lengthAdjust="spacingAndGlyphs">Part 1</text>
<text transform="translate(1756.5,517.5) rotate(-90)" font-family="'Liberation Sans', sans-serif" font-size="19" fill="#000" stroke="#000" stroke-width="0.4" text-anchor="middle" textLength="49" lengthAdjust="spacingAndGlyphs">Part 1</text>
<g transform="translate(1477.6,554.8)">
<path d="M10,10 C22,0 44,4 47,20 C49,28 66,32 64,46 C62,58 40,60 28,66 C12,72 4,56 5,40 C6,28 3,18 10,10 Z" transform="translate(35,36) scale(1.0) translate(-35,-36)" fill="#fdefbf" stroke="#d6a93a" stroke-width="1.0"/>
<path d="M10,10 C22,0 44,4 47,20 C49,28 66,32 64,46 C62,58 40,60 28,66 C12,72 4,56 5,40 C6,28 3,18 10,10 Z" transform="translate(35,36) scale(0.84) translate(-35,-36)" fill="#ebe6f1" stroke="#d6a93a" stroke-width="1.1904761904761905"/>
<path d="M10,10 C22,0 44,4 47,20 C49,28 66,32 64,46 C62,58 40,60 28,66 C12,72 4,56 5,40 C6,28 3,18 10,10 Z" transform="translate(35,36) scale(0.7) translate(-35,-36)" fill="#fdefbf" stroke="#d6a93a" stroke-width="1.4285714285714286"/>
<path d="M10,10 C22,0 44,4 47,20 C49,28 66,32 64,46 C62,58 40,60 28,66 C12,72 4,56 5,40 C6,28 3,18 10,10 Z" transform="translate(35,36) scale(0.54) translate(-35,-36)" fill="#ebe6f1" stroke="#d6a93a" stroke-width="1.8518518518518516"/>
<path d="M10,10 C22,0 44,4 47,20 C49,28 66,32 64,46 C62,58 40,60 28,66 C12,72 4,56 5,40 C6,28 3,18 10,10 Z" transform="translate(35,36) scale(0.36) translate(-35,-36)" fill="#fdefbf" stroke="#d6a93a" stroke-width="2.7777777777777777"/>
</g>
<g transform="translate(1667,554.8)">
<path d="M10,10 C22,0 44,4 47,20 C49,28 66,32 64,46 C62,58 40,60 28,66 C12,72 4,56 5,40 C6,28 3,18 10,10 Z" transform="translate(35,36) scale(1.0) translate(-35,-36)" fill="none" stroke="#d98886" stroke-width="1.0"/>
<path d="M10,10 C22,0 44,4 47,20 C49,28 66,32 64,46 C62,58 40,60 28,66 C12,72 4,56 5,40 C6,28 3,18 10,10 Z" transform="translate(35,36) scale(0.84) translate(-35,-36)" fill="none" stroke="#d98886" stroke-width="1.1904761904761905"/>
<path d="M10,10 C22,0 44,4 47,20 C49,28 66,32 64,46 C62,58 40,60 28,66 C12,72 4,56 5,40 C6,28 3,18 10,10 Z" transform="translate(35,36) scale(0.7) translate(-35,-36)" fill="none" stroke="#d98886" stroke-width="1.4285714285714286"/>
<path d="M10,10 C22,0 44,4 47,20 C49,28 66,32 64,46 C62,58 40,60 28,66 C12,72 4,56 5,40 C6,28 3,18 10,10 Z" transform="translate(35,36) scale(0.54) translate(-35,-36)" fill="none" stroke="#d98886" stroke-width="1.8518518518518516"/>
<path d="M10,10 C22,0 44,4 47,20 C49,28 66,32 64,46 C62,58 40,60 28,66 C12,72 4,56 5,40 C6,28 3,18 10,10 Z" transform="translate(35,36) scale(0.36) translate(-35,-36)" fill="none" stroke="#d98886" stroke-width="2.7777777777777777"/>
</g>
<rect x="1479.4" y="556.5999999999999" width="66.8" height="66.6" rx="9" fill="none" stroke="#bf8f1a" stroke-width="3.6" />
<rect x="1668.8" y="556.5999999999999" width="66.8" height="66.6" rx="9" fill="none" stroke="#d98886" stroke-width="3.6" />
<rect x="1584.8" y="574" width="49.5" height="26.8" rx="10" fill="#fff0c6" stroke="#fde08a" stroke-width="2" />
<rect x="1584.8" y="601.8" width="49.5" height="27.6" rx="10" fill="#bdd39b" stroke="#6f9a3f" stroke-width="2" />
<text x="1610" y="596" font-family="'Liberation Sans', sans-serif" font-size="24" font-style="italic" font-weight="bold" fill="#5a4408" text-anchor="middle">C</text>
<text x="1610" y="624.8" font-family="'Liberation Sans', sans-serif" font-size="24" font-style="italic" font-weight="bold" fill="#3d5a1c" text-anchor="middle">A</text>
<polyline points="1548.0,590.3 1566.5,590.3" fill="none" stroke="#b8860b" stroke-width="3.2" stroke-linejoin="round" />
<polygon points="1583.5,590.3 1565.5,598.5 1565.5,582.1" fill="#b8860b" stroke="none" stroke-width="0" />
<polyline points="1667.0,590.3 1653.0,590.3" fill="none" stroke="#d5827f" stroke-width="3.2" stroke-linejoin="round" />
<polygon points="1636.0,590.3 1654.0,582.1 1654.0,598.5" fill="#d5827f" stroke="none" stroke-width="0" />
<text transform="translate(1470.5,591.3) rotate(-90)" font-family="'Liberation Sans', sans-serif" font-size="19" fill="#000" stroke="#000" stroke-width="0.4" text-anchor="middle" textLength="51" lengthAdjust="spacingAndGlyphs">Part 2</text>
<text transform="translate(1756.5,591.3) rotate(-90)" font-family="'Liberation Sans', sans-serif" font-size="19" fill="#000" stroke="#000" stroke-width="0.4" text-anchor="middle" textLength="51" lengthAdjust="spacingAndGlyphs">Part 2</text>
<g transform="translate(1477.6,668.4)">
<path d="M35,4 C55,4 66,14 64,32 C62,48 48,67 35,67 C22,67 8,48 6,32 C4,14 15,4 35,4 Z" transform="translate(35,36) scale(1.0) translate(-35,-36)" fill="#fdefbf" stroke="#d6a93a" stroke-width="1.0"/>
<path d="M35,4 C55,4 66,14 64,32 C62,48 48,67 35,67 C22,67 8,48 6,32 C4,14 15,4 35,4 Z" transform="translate(35,36) scale(0.84) translate(-35,-36)" fill="#ebe6f1" stroke="#d6a93a" stroke-width="1.1904761904761905"/>
<path d="M35,4 C55,4 66,14 64,32 C62,48 48,67 35,67 C22,67 8,48 6,32 C4,14 15,4 35,4 Z" transform="translate(35,36) scale(0.7) translate(-35,-36)" fill="#fdefbf" stroke="#d6a93a" stroke-width="1.4285714285714286"/>
<path d="M35,4 C55,4 66,14 64,32 C62,48 48,67 35,67 C22,67 8,48 6,32 C4,14 15,4 35,4 Z" transform="translate(35,36) scale(0.54) translate(-35,-36)" fill="#ebe6f1" stroke="#d6a93a" stroke-width="1.8518518518518516"/>
<path d="M35,4 C55,4 66,14 64,32 C62,48 48,67 35,67 C22,67 8,48 6,32 C4,14 15,4 35,4 Z" transform="translate(35,36) scale(0.36) translate(-35,-36)" fill="#fdefbf" stroke="#d6a93a" stroke-width="2.7777777777777777"/>
</g>
<g transform="translate(1667,668.4)">
<path d="M35,4 C55,4 66,14 64,32 C62,48 48,67 35,67 C22,67 8,48 6,32 C4,14 15,4 35,4 Z" transform="translate(35,36) scale(1.0) translate(-35,-36)" fill="none" stroke="#d98886" stroke-width="1.0"/>
<path d="M35,4 C55,4 66,14 64,32 C62,48 48,67 35,67 C22,67 8,48 6,32 C4,14 15,4 35,4 Z" transform="translate(35,36) scale(0.84) translate(-35,-36)" fill="none" stroke="#d98886" stroke-width="1.1904761904761905"/>
<path d="M35,4 C55,4 66,14 64,32 C62,48 48,67 35,67 C22,67 8,48 6,32 C4,14 15,4 35,4 Z" transform="translate(35,36) scale(0.7) translate(-35,-36)" fill="none" stroke="#d98886" stroke-width="1.4285714285714286"/>
<path d="M35,4 C55,4 66,14 64,32 C62,48 48,67 35,67 C22,67 8,48 6,32 C4,14 15,4 35,4 Z" transform="translate(35,36) scale(0.54) translate(-35,-36)" fill="none" stroke="#d98886" stroke-width="1.8518518518518516"/>
<path d="M35,4 C55,4 66,14 64,32 C62,48 48,67 35,67 C22,67 8,48 6,32 C4,14 15,4 35,4 Z" transform="translate(35,36) scale(0.36) translate(-35,-36)" fill="none" stroke="#d98886" stroke-width="2.7777777777777777"/>
</g>
<rect x="1479.4" y="670.1999999999999" width="66.8" height="66.6" rx="9" fill="none" stroke="#bf8f1a" stroke-width="3.6" />
<rect x="1668.8" y="670.1999999999999" width="66.8" height="66.6" rx="9" fill="none" stroke="#d98886" stroke-width="3.6" />
<rect x="1584.8" y="688.4" width="49.5" height="26.8" rx="10" fill="#fff0c6" stroke="#fde08a" stroke-width="2" />
<rect x="1584.8" y="717.5" width="49.5" height="27.6" rx="10" fill="#bdd39b" stroke="#6f9a3f" stroke-width="2" />
<text x="1610" y="710.4" font-family="'Liberation Sans', sans-serif" font-size="24" font-style="italic" font-weight="bold" fill="#5a4408" text-anchor="middle">C</text>
<text x="1610" y="740.5" font-family="'Liberation Sans', sans-serif" font-size="24" font-style="italic" font-weight="bold" fill="#3d5a1c" text-anchor="middle">A</text>
<polyline points="1548.0,703.9 1566.5,703.9" fill="none" stroke="#b8860b" stroke-width="3.2" stroke-linejoin="round" />
<polygon points="1583.5,703.9 1565.5,712.1 1565.5,695.7" fill="#b8860b" stroke="none" stroke-width="0" />
<polyline points="1667.0,703.9 1653.0,703.9" fill="none" stroke="#d5827f" stroke-width="3.2" stroke-linejoin="round" />
<polygon points="1636.0,703.9 1654.0,695.7 1654.0,712.1" fill="#d5827f" stroke="none" stroke-width="0" />
<text transform="translate(1470.5,704.9) rotate(-90)" font-family="'Liberation Sans', sans-serif" font-size="19" fill="#000" stroke="#000" stroke-width="0.4" text-anchor="middle" textLength="56" lengthAdjust="spacingAndGlyphs">Part m</text>
<text transform="translate(1756.5,704.9) rotate(-90)" font-family="'Liberation Sans', sans-serif" font-size="19" fill="#000" stroke="#000" stroke-width="0.4" text-anchor="middle" textLength="56" lengthAdjust="spacingAndGlyphs">Part m</text>
<text x="1608.6" y="571.7" font-family="'Liberation Sans', sans-serif" font-size="20" text-anchor="middle">+</text>
<text x="1608.6" y="644" font-family="'Liberation Sans', sans-serif" font-size="20" text-anchor="middle">+</text>
<circle cx="1511" cy="645.7" r="1.6" fill="#000"/>
<circle cx="1511" cy="652.7" r="1.6" fill="#000"/>
<circle cx="1511" cy="659.7" r="1.6" fill="#000"/>
<circle cx="1608.6" cy="655.7" r="1.6" fill="#000"/>
<circle cx="1608.6" cy="662.7" r="1.6" fill="#000"/>
<circle cx="1608.6" cy="669.7" r="1.6" fill="#000"/>
<circle cx="1703" cy="645.7" r="1.6" fill="#000"/>
<circle cx="1703" cy="652.7" r="1.6" fill="#000"/>
<circle cx="1703" cy="659.7" r="1.6" fill="#000"/>
<polyline points="1608.6,745.4 1608.6,779.0" fill="none" stroke="#7b5c9b" stroke-width="4" stroke-linejoin="round" />
<polygon points="1608.6,796.0 1600.1,778.0 1617.1,778.0" fill="#7b5c9b" stroke="none" stroke-width="0" />
<circle cx="1608.6" cy="813.6" r="14" fill="none" stroke="#222" stroke-width="2.5"/>
<path d="M1600.8999999999999,813.6 L1616.3,813.6 M1608.6,805.9 L1608.6,821.3000000000001" stroke="#222" stroke-width="2.25" stroke-linecap="round"/>
<text x="1446.8" y="815" font-family="'Liberation Serif', serif" font-style="italic" font-size="33.02" fill="#000">F</text>
<text x="1464.8" y="824" font-family="'Liberation Serif', serif" font-style="italic" font-size="20.8" fill="#000">latent</text>
<path d="M1534.2,798.2 L1548.2,805.9 L1534.2,813.9 L1520.2,805.9 Z M1520.2,812.5 L1534.2,820.5 L1548.2,812.5 M1520.2,805.9 L1520.2,820.5 L1534.2,826.8 L1548.2,820.5 L1548.2,805.9" fill="none" stroke="#2b7b90" stroke-width="2.5" stroke-linejoin="round"/>
<polyline points="1550.0,813.6 1577.5,813.6" fill="none" stroke="#86c4d7" stroke-width="3.2" stroke-linejoin="round" />
<polygon points="1593.5,813.6 1576.5,821.6 1576.5,805.6" fill="#86c4d7" stroke="none" stroke-width="0" />
<polyline points="1623.0,816.0 1778.0,816.0 1778.0,481.0" fill="none" stroke="#7b5c9b" stroke-width="3.5" stroke-linejoin="round" />
<rect x="312.2" y="570.6" width="25.099999999999998" height="25.099999999999998" rx="5" fill="#fde7d8" stroke="#e8832f" stroke-width="2" />
<rect x="339.3" y="570.6" width="25.099999999999998" height="25.099999999999998" rx="5" fill="#fcdf8a" stroke="#e8832f" stroke-width="2" />
<rect x="366.4" y="570.6" width="25.099999999999998" height="25.099999999999998" rx="5" fill="#e3b1ad" stroke="#e8832f" stroke-width="2" />
<rect x="312.2" y="597.7" width="25.099999999999998" height="25.099999999999998" rx="5" fill="#a9d8e3" stroke="#e8832f" stroke-width="2" />
<rect x="339.3" y="597.7" width="25.099999999999998" height="25.099999999999998" rx="5" fill="#ebe6f2" stroke="#e8832f" stroke-width="2" />
<rect x="366.4" y="597.7" width="25.099999999999998" height="25.099999999999998" rx="5" fill="#cfe0b6" stroke="#e8832f" stroke-width="2" />
<rect x="312.2" y="624.8000000000001" width="25.099999999999998" height="25.099999999999998" rx="5" fill="#efefef" stroke="#e8832f" stroke-width="2" />
<rect x="339.3" y="624.8000000000001" width="25.099999999999998" height="25.099999999999998" rx="5" fill="#c4b8d7" stroke="#e8832f" stroke-width="2" />
<rect x="366.4" y="624.8000000000001" width="25.099999999999998" height="25.099999999999998" rx="5" fill="#fde7d8" stroke="#e8832f" stroke-width="2" />
<text x="328.8" y="680" font-family="'Liberation Serif', serif" font-style="italic" font-size="33.02" fill="#000">F</text>
<text x="347.8" y="688" font-family="'Liberation Serif', serif" font-style="italic" font-size="19.76" fill="#000">SSP</text>
<path d="M392.5,656.2 L406.8,663.9 L392.5,671.9 L378.2,663.9 Z M378.2,670.5 L392.5,678.5 L406.8,670.5 M378.2,663.9 L378.2,678.5 L392.5,684.8 L406.8,678.5 L406.8,663.9" fill="none" stroke="#b8860b" stroke-width="2.5" stroke-linejoin="round"/>
<polyline points="397.3,607.9 471.2,607.9" fill="none" stroke="#b8860b" stroke-width="3.2" stroke-linejoin="round" />
<polygon points="488.2,607.9 470.2,615.9 470.2,599.9" fill="#b8860b" stroke="none" stroke-width="0" />
<circle cx="504.3" cy="609" r="12.6" fill="none" stroke="#000" stroke-width="2.6"/>
<path d="M499.764,604.464 L508.836,613.536 M499.764,613.536 L508.836,604.464" stroke="#000" stroke-width="2.9899999999999998" stroke-linecap="round"/>
<polyline points="603.2,608.0 537.3,608.0" fill="none" stroke="#d5827f" stroke-width="3.2" stroke-linejoin="round" />
<polygon points="520.3,608.0 538.3,600.0 538.3,616.0" fill="#d5827f" stroke="none" stroke-width="0" />
<polyline points="504.3,627.0 504.3,677.0" fill="none" stroke="#d5827f" stroke-width="3.2" stroke-linejoin="round" />
<polygon points="504.3,694.0 496.3,676.0 512.3,676.0" fill="#d5827f" stroke="none" stroke-width="0" />
<text x="441" y="540" font-family="'Liberation Serif', serif" font-size="27" font-style="italic">F</text>
<text x="456" y="547" font-family="'Liberation Serif', serif" font-size="16" font-style="italic">SSP</text>
<text x="482" y="540" font-family="'Liberation Serif', serif" font-size="27"><tspan>[</tspan><tspan font-style="italic">i</tspan><tspan>] &#183; </tspan><tspan font-weight="bold">D</tspan><tspan>[</tspan><tspan font-style="italic">j</tspan><tspan>]</tspan></text>
<polyline points="408.5,550.4 597.8,550.4" fill="none" stroke="#000" stroke-width="1.6" stroke-linejoin="round" />
<text x="409" y="578" font-family="'Liberation Serif', serif" font-size="26">||</text>
<text x="427" y="578" font-family="'Liberation Serif', serif" font-size="27" font-style="italic">F</text>
<text x="441" y="585" font-family="'Liberation Serif', serif" font-size="16" font-style="italic">SSP</text>
<text x="467" y="578" font-family="'Liberation Serif', serif" font-size="27"><tspan>[</tspan><tspan font-style="italic">i</tspan><tspan>]||</tspan></text>
<text x="503" y="585" font-family="'Liberation Serif', serif" font-size="16">2</text>
<text x="511" y="578" font-family="'Liberation Serif', serif" font-size="27">&#183;||</text>
<text x="530" y="578" font-family="'Liberation Serif', serif" font-size="27"><tspan font-weight="bold">D</tspan><tspan>[</tspan><tspan font-style="italic">j</tspan><tspan>]||</tspan></text>
<text x="586" y="585" font-family="'Liberation Serif', serif" font-size="16">2</text>
<rect x="607.5" y="560.3" width="190.5" height="94.7" rx="10" fill="none" stroke="#9b86b0" stroke-width="2.6" />
<rect x="621" y="568" width="17.2" height="22.700000000000045" rx="8.6" fill="#f0924a" stroke="none" stroke-width="0" />
<rect x="621" y="591.8" width="17.2" height="53.80000000000007" rx="8.6" fill="#f0924a" stroke="none" stroke-width="0" />
<text x="632" y="584.5" font-family="'Liberation Sans', sans-serif" font-size="16" font-weight="bold" fill="#2a7a8f" text-anchor="middle">0</text>
<rect x="642" y="568" width="17.2" height="22.700000000000045" rx="8.6" fill="#e0aaa6" stroke="none" stroke-width="0" />
<rect x="642" y="591.8" width="17.2" height="53.80000000000007" rx="8.6" fill="#e0aaa6" stroke="none" stroke-width="0" />
<text x="653" y="584.5" font-family="'Liberation Sans', sans-serif" font-size="16" font-weight="bold" fill="#2a7a8f" text-anchor="middle">1</text>
<rect x="663" y="568" width="17.2" height="22.700000000000045" rx="8.6" fill="#fdd35f" stroke="none" stroke-width="0" />
<rect x="663" y="591.8" width="17.2" height="53.80000000000007" rx="8.6" fill="#fdd35f" stroke="none" stroke-width="0" />
<text x="674" y="584.5" font-family="'Liberation Sans', sans-serif" font-size="16" font-weight="bold" fill="#2a7a8f" text-anchor="middle">2</text>
<rect x="683" y="568" width="17.2" height="22.700000000000045" rx="8.6" fill="#d6ebf0" stroke="none" stroke-width="0" />
<rect x="683" y="591.8" width="17.2" height="53.80000000000007" rx="8.6" fill="#d6ebf0" stroke="none" stroke-width="0" />
<text x="694" y="584.5" font-family="'Liberation Sans', sans-serif" font-size="16" font-weight="bold" fill="#2a7a8f" text-anchor="middle">3</text>
<rect x="703" y="568" width="17.2" height="22.700000000000045" rx="8.6" fill="#bdd09a" stroke="none" stroke-width="0" />
<rect x="703" y="591.8" width="17.2" height="53.80000000000007" rx="8.6" fill="#bdd09a" stroke="none" stroke-width="0" />
<text x="714" y="584.5" font-family="'Liberation Sans', sans-serif" font-size="16" font-weight="bold" fill="#2a7a8f" text-anchor="middle">4</text>
<rect x="723.7" y="568" width="17.2" height="22.700000000000045" rx="8.6" fill="#88c5d6" stroke="none" stroke-width="0" />
<rect x="723.7" y="591.8" width="17.2" height="53.80000000000007" rx="8.6" fill="#88c5d6" stroke="none" stroke-width="0" />
<text x="734.7" y="584.5" font-family="'Liberation Sans', sans-serif" font-size="16" font-weight="bold" fill="#2a7a8f" text-anchor="middle">5</text>
<rect x="767" y="568" width="17.2" height="22.700000000000045" rx="8.6" fill="#c3b6d3" stroke="none" stroke-width="0" />
<rect x="767" y="591.8" width="17.2" height="53.80000000000007" rx="8.6" fill="#c3b6d3" stroke="none" stroke-width="0" />
<text x="778" y="584.5" font-family="'Liberation Sans', sans-serif" font-size="16" font-weight="bold" fill="#2a7a8f" text-anchor="middle">N</text>
<text x="754" y="612" font-family="'Liberation Sans', sans-serif" font-size="14" text-anchor="middle">...</text>
<text x="737.4" y="554.6" font-family="'Liberation Sans', sans-serif" font-size="25" font-weight="normal" font-style="normal" fill="#4a4a4a" text-anchor="start" textLength="31.4" lengthAdjust="spacingAndGlyphs" stroke="#4a4a4a" stroke-width="0.5">HD</text>
<text x="702" y="687" font-family="'Liberation Serif', serif" font-size="31" font-weight="bold" text-anchor="middle">D</text>
<rect x="942.5" y="557.6" width="190.5" height="94.6" rx="10" fill="none" stroke="#9b86b0" stroke-width="2.6" />
<rect x="957" y="564.6" width="17.2" height="21.699999999999932" rx="8.6" fill="#f0924a" stroke="none" stroke-width="0" />
<rect x="957" y="588" width="17.2" height="54.5" rx="8.6" fill="#f0924a" stroke="none" stroke-width="0" />
<text x="968" y="581.1" font-family="'Liberation Sans', sans-serif" font-size="16" font-weight="bold" fill="#2a7a8f" text-anchor="middle">0</text>
<rect x="977" y="564.6" width="17.2" height="21.699999999999932" rx="8.6" fill="#e0aaa6" stroke="none" stroke-width="0" />
<rect x="977" y="588" width="17.2" height="54.5" rx="8.6" fill="#e0aaa6" stroke="none" stroke-width="0" />
<text x="988" y="581.1" font-family="'Liberation Sans', sans-serif" font-size="16" font-weight="bold" fill="#2a7a8f" text-anchor="middle">1</text>
<rect x="997.3" y="564.6" width="17.2" height="21.699999999999932" rx="8.6" fill="#fdd35f" stroke="none" stroke-width="0" />
<rect x="997.3" y="588" width="17.2" height="54.5" rx="8.6" fill="#fdd35f" stroke="none" stroke-width="0" />
<text x="1008.3" y="581.1" font-family="'Liberation Sans', sans-serif" font-size="16" font-weight="bold" fill="#2a7a8f" text-anchor="middle">2</text>
<rect x="1018" y="564.6" width="17.2" height="21.699999999999932" rx="8.6" fill="#d6ebf0" stroke="none" stroke-width="0" />
<rect x="1018" y="588" width="17.2" height="54.5" rx="8.6" fill="#d6ebf0" stroke="none" stroke-width="0" />
<text x="1029" y="581.1" font-family="'Liberation Sans', sans-serif" font-size="16" font-weight="bold" fill="#2a7a8f" text-anchor="middle">3</text>
<rect x="1038" y="564.6" width="17.2" height="21.699999999999932" rx="8.6" fill="#bdd09a" stroke="none" stroke-width="0" />
<rect x="1038" y="588" width="17.2" height="54.5" rx="8.6" fill="#bdd09a" stroke="none" stroke-width="0" />
<text x="1049" y="581.1" font-family="'Liberation Sans', sans-serif" font-size="16" font-weight="bold" fill="#2a7a8f" text-anchor="middle">4</text>
<rect x="1058.5" y="564.6" width="17.2" height="21.699999999999932" rx="8.6" fill="#88c5d6" stroke="none" stroke-width="0" />
<rect x="1058.5" y="588" width="17.2" height="54.5" rx="8.6" fill="#88c5d6" stroke="none" stroke-width="0" />
<text x="1069.5" y="581.1" font-family="'Liberation Sans', sans-serif" font-size="16" font-weight="bold" fill="#2a7a8f" text-anchor="middle">5</text>
<rect x="1102.6" y="564.6" width="17.2" height="21.699999999999932" rx="8.6" fill="#c3b6d3" stroke="none" stroke-width="0" />
<rect x="1102.6" y="588" width="17.2" height="54.5" rx="8.6" fill="#c3b6d3" stroke="none" stroke-width="0" />
<text x="1113.6" y="581.1" font-family="'Liberation Sans', sans-serif" font-size="16" font-weight="bold" fill="#2a7a8f" text-anchor="middle">N</text>
<text x="1087" y="609" font-family="'Liberation Sans', sans-serif" font-size="14" text-anchor="middle">...</text>
<text x="1073" y="551" font-family="'Liberation Sans', sans-serif" font-size="25" font-weight="normal" font-style="normal" fill="#4a4a4a" text-anchor="start" textLength="31.4" lengthAdjust="spacingAndGlyphs" stroke="#4a4a4a" stroke-width="0.5">HD</text>
<text x="1037" y="682" font-family="'Liberation Serif', serif" font-size="31" font-weight="bold" text-anchor="middle">D</text>
<g transform="translate(779,529) scale(1.0)">
<path d="M6,13 C6,10 8,9 10,8 L18,4.5 C20,4 22,4 24,4 L42,6.5 C44.5,7 45.7,8.5 45.7,11 L45.7,35 C45.7,37 44.5,38 43,39 L40,41 C39,43.5 37,44.8 34,44.6 L8,42 C4.5,41.5 3.2,39.5 4.5,37.5 L6,36 Z" fill="#7dcdf5" stroke="#1b3a73" stroke-width="2" stroke-linejoin="round"/>
<path d="M32,15 L45,8.5 L45.5,35 C45,37 43,38.5 40.5,39.5 L32,40 Z" fill="#2aa6ef"/>
<path d="M7,13 L19,6 L43,8 L32,15 Z" fill="#bfe8fb"/>
<ellipse cx="25" cy="10.5" rx="8" ry="2" fill="#5cc0f2"/>
<path d="M6,37.5 C12,40 28,41 40,40.5" fill="none" stroke="#c7ecfc" stroke-width="2.6"/>
<circle cx="13.4" cy="24.5" r="1.5" fill="#1b3a73"/><circle cx="24" cy="25.3" r="1.5" fill="#1b3a73"/>
<path d="M16.5,29 Q18.5,32 21,29.3" fill="none" stroke="#1b3a73" stroke-width="1.2"/>
<ellipse cx="10" cy="28.7" rx="2" ry="0.9" fill="#e8f7fe"/><ellipse cx="27.3" cy="29.5" rx="2" ry="0.9" fill="#e8f7fe"/>
</g>
<g transform="translate(1111,523) scale(1.0)">
<path d="M6,13 C6,10 8,9 10,8 L18,4.5 C20,4 22,4 24,4 L42,6.5 C44.5,7 45.7,8.5 45.7,11 L45.7,35 C45.7,37 44.5,38 43,39 L40,41 C39,43.5 37,44.8 34,44.6 L8,42 C4.5,41.5 3.2,39.5 4.5,37.5 L6,36 Z" fill="#7dcdf5" stroke="#1b3a73" stroke-width="2" stroke-linejoin="round"/>
<path d="M32,15 L45,8.5 L45.5,35 C45,37 43,38.5 40.5,39.5 L32,40 Z" fill="#2aa6ef"/>
<path d="M7,13 L19,6 L43,8 L32,15 Z" fill="#bfe8fb"/>
<ellipse cx="25" cy="10.5" rx="8" ry="2" fill="#5cc0f2"/>
<path d="M6,37.5 C12,40 28,41 40,40.5" fill="none" stroke="#c7ecfc" stroke-width="2.6"/>
<circle cx="13.4" cy="24.5" r="1.5" fill="#1b3a73"/><circle cx="24" cy="25.3" r="1.5" fill="#1b3a73"/>
<path d="M16.5,29 Q18.5,32 21,29.3" fill="none" stroke="#1b3a73" stroke-width="1.2"/>
<ellipse cx="10" cy="28.7" rx="2" ry="0.9" fill="#e8f7fe"/><ellipse cx="27.3" cy="29.5" rx="2" ry="0.9" fill="#e8f7fe"/>
</g>
<text x="447" y="725" font-family="'Liberation Serif', serif" font-size="34" font-style="italic">M</text>
<text x="478" y="733" font-family="'Liberation Serif', serif" font-size="20" font-style="italic">attn</text>
<text x="511" y="725" font-family="'Liberation Serif', serif" font-size="34"><tspan>[</tspan><tspan font-style="italic">i</tspan><tspan>, </tspan><tspan font-style="italic">j</tspan><tspan>]</tspan></text>
<rect x="332.7" y="817.3" width="16.900000000000034" height="21.40000000000009" rx="1.5" fill="#fdd0cb" stroke="none" stroke-width="0" />
<rect x="352.2" y="784" width="16.80000000000001" height="54.700000000000045" rx="1.5" fill="#fdd0cb" stroke="none" stroke-width="0" />
<rect x="390.9" y="717" width="16.900000000000034" height="121.70000000000005" rx="1.5" fill="#fdd0cb" stroke="none" stroke-width="0" />
<rect x="410.3" y="777" width="16.899999999999977" height="61.700000000000045" rx="1.5" fill="#fdd0cb" stroke="none" stroke-width="0" />
<rect x="429.6" y="804.2" width="16.899999999999977" height="34.5" rx="1.5" fill="#fdd0cb" stroke="none" stroke-width="0" />
<rect x="449" y="784" width="17" height="54.700000000000045" rx="1.5" fill="#fdd0cb" stroke="none" stroke-width="0" />
<rect x="567" y="817.3" width="16.799999999999955" height="21.40000000000009" rx="1.5" fill="#fdd0cb" stroke="none" stroke-width="0" />
<rect x="586" y="804.2" width="17" height="34.5" rx="1.5" fill="#fdd0cb" stroke="none" stroke-width="0" />
<rect x="605.6" y="784" width="16.899999999999977" height="54.700000000000045" rx="1.5" fill="#fdd0cb" stroke="none" stroke-width="0" />
<rect x="625" y="784" width="17" height="54.700000000000045" rx="1.5" fill="#fdd0cb" stroke="none" stroke-width="0" />
<rect x="644.3" y="777" width="16.700000000000045" height="61.700000000000045" rx="1.5" fill="#fdd0cb" stroke="none" stroke-width="0" />
<rect x="683.2" y="717" width="16.899999999999977" height="121.70000000000005" rx="1.5" fill="#fdd0cb" stroke="none" stroke-width="0" />
<polyline points="332.3,838.7 464.9,838.7" fill="none" stroke="#d38080" stroke-width="2" stroke-linejoin="round" />
<polyline points="567.9,838.7 700.8,838.7" fill="none" stroke="#d38080" stroke-width="2" stroke-linejoin="round" />
<circle cx="374.5" cy="824" r="1.6" fill="#6d7bb8"/>
<circle cx="380.3" cy="824" r="1.6" fill="#6d7bb8"/>
<circle cx="386.1" cy="824" r="1.6" fill="#6d7bb8"/>
<circle cx="665.3" cy="824" r="1.6" fill="#6d7bb8"/>
<circle cx="671.1" cy="824" r="1.6" fill="#6d7bb8"/>
<circle cx="676.9" cy="824" r="1.6" fill="#6d7bb8"/>
<text x="342.8" y="856" font-family="'Liberation Sans', sans-serif" font-size="17" font-weight="bold" fill="#8b3a2a" text-anchor="middle">4</text>
<text x="360.2" y="856" font-family="'Liberation Sans', sans-serif" font-size="17" font-weight="bold" fill="#8b3a2a" text-anchor="middle">5</text>
<text x="378.2" y="856" font-family="'Liberation Sans', sans-serif" font-size="17" font-weight="bold" fill="#8b3a2a" text-anchor="middle">N</text>
<text x="397.2" y="856" font-family="'Liberation Sans', sans-serif" font-size="17" font-weight="bold" fill="#8b3a2a" text-anchor="middle">1</text>
<text x="414.8" y="856" font-family="'Liberation Sans', sans-serif" font-size="17" font-weight="bold" fill="#8b3a2a" text-anchor="middle">0</text>
<text x="433.8" y="856" font-family="'Liberation Sans', sans-serif" font-size="17" font-weight="bold" fill="#8b3a2a" text-anchor="middle">2</text>
<text x="452.2" y="856" font-family="'Liberation Sans', sans-serif" font-size="17" font-weight="bold" fill="#8b3a2a" text-anchor="middle">3</text>
<text x="574.9" y="856" font-family="'Liberation Sans', sans-serif" font-size="17" font-weight="bold" fill="#8b3a2a" text-anchor="middle">4</text>
<text x="594" y="856" font-family="'Liberation Sans', sans-serif" font-size="17" font-weight="bold" fill="#8b3a2a" text-anchor="middle">2</text>
<text x="613" y="856" font-family="'Liberation Sans', sans-serif" font-size="17" font-weight="bold" fill="#8b3a2a" text-anchor="middle">5</text>
<text x="631" y="856" font-family="'Liberation Sans', sans-serif" font-size="17" font-weight="bold" fill="#8b3a2a" text-anchor="middle">3</text>
<text x="649.6" y="856" font-family="'Liberation Sans', sans-serif" font-size="17" font-weight="bold" fill="#8b3a2a" text-anchor="middle">0</text>
<text x="668.6" y="856" font-family="'Liberation Sans', sans-serif" font-size="17" font-weight="bold" fill="#8b3a2a" text-anchor="middle">N</text>
<text x="687" y="856" font-family="'Liberation Sans', sans-serif" font-size="17" font-weight="bold" fill="#8b3a2a" text-anchor="middle">1</text>
<polyline points="576.0,816.9 595.0,803.8 614.0,783.5 633.5,783.5 652.5,776.7 671.6,729.8 690.6,716.4" fill="none" stroke="#f0406a" stroke-width="2" stroke-linejoin="round" />
<circle cx="576" cy="816.9" r="2.6" fill="#f0406a"/>
<circle cx="595" cy="803.8" r="2.6" fill="#f0406a"/>
<circle cx="614" cy="783.5" r="2.6" fill="#f0406a"/>
<circle cx="633.5" cy="783.5" r="2.6" fill="#f0406a"/>
<circle cx="652.5" cy="776.7" r="2.6" fill="#f0406a"/>
<circle cx="671.6" cy="729.8" r="2.6" fill="#f0406a"/>
<circle cx="690.6" cy="716.4" r="2.6" fill="#f0406a"/>
<polyline points="479.0,825.0 531.4,825.0" fill="none" stroke="#d98c8a" stroke-width="3.2" stroke-linejoin="round" />
<polygon points="548.4,825.0 530.4,833.0 530.4,817.0" fill="#d98c8a" stroke="none" stroke-width="0" />
<path d="M480,775.2 C500,774 530,771 552.6,770 L553,797.3 C530,799 505,801.5 480,802.8 Z" fill="#fbbb12"/>
<text x="500.5" y="793.3" font-family="'Liberation Sans', sans-serif" font-size="19" font-weight="bold" font-style="normal" fill="#8b2e2a" text-anchor="start" textLength="38.9" lengthAdjust="spacingAndGlyphs" >Sort</text>
<ellipse cx="489" cy="767.5" rx="5.5" ry="3.8" fill="#f2b446" stroke="#2a2420" stroke-width="1.2"/>
<path d="M477,776 C476.5,771.5 480,769.8 486,769.8 L492.6,769.8 L492.6,796.8 L497,796.8 C500.5,797 500.5,804.5 497,804.6 L479,804.6 C475.2,804.5 475.2,797 479,796.8 L483.8,796.8 L483.8,777 C481,778 477.3,778.5 477,776 Z" fill="#48cdf0" stroke="#2a2420" stroke-width="1.4" stroke-linejoin="round"/>
<circle cx="495.5" cy="771.5" r="1.7" fill="#9a6ad8" stroke="#2a2420" stroke-width="0.6"/><circle cx="496.5" cy="782.5" r="1.4" fill="#9a6ad8"/><circle cx="473.5" cy="795.8" r="1.7" fill="#9a6ad8" stroke="#2a2420" stroke-width="0.6"/>
<circle cx="484.5" cy="773.5" r="0.7" fill="#222"/><circle cx="488.5" cy="773.5" r="0.7" fill="#222"/>
<path d="M803,682 Q803,680.3 805,680.5 L847,686 L847,676 Q847,674 849,675.5 L873.5,696.5 Q875,698 873.5,699.5 L849,720 Q847,721.5 847,719.5 L847,710.3 L805,715.3 Q803,715.5 803,713.5 Z" fill="#2f93d6" stroke="#4a3058" stroke-width="2.2" stroke-linejoin="round"/>
<rect x="896.2" y="682.0" width="25.0" height="25.0" rx="5" fill="#fde7d8" stroke="#e8832f" stroke-width="2" />
<rect x="923.2" y="682.0" width="25.0" height="25.0" rx="5" fill="#fcdf8a" stroke="#e8832f" stroke-width="2" />
<rect x="950.2" y="682.0" width="25.0" height="25.0" rx="5" fill="#e3b1ad" stroke="#e8832f" stroke-width="2" />
<rect x="896.2" y="709.0" width="25.0" height="25.0" rx="5" fill="#a9d8e3" stroke="#e8832f" stroke-width="2" />
<rect x="923.2" y="709.0" width="25.0" height="25.0" rx="5" fill="#ebe6f2" stroke="#e8832f" stroke-width="2" />
<rect x="950.2" y="709.0" width="25.0" height="25.0" rx="5" fill="#cfe0b6" stroke="#e8832f" stroke-width="2" />
<rect x="896.2" y="736.0" width="25.0" height="25.0" rx="5" fill="#efefef" stroke="#e8832f" stroke-width="2" />
<rect x="923.2" y="736.0" width="25.0" height="25.0" rx="5" fill="#c4b8d7" stroke="#e8832f" stroke-width="2" />
<rect x="950.2" y="736.0" width="25.0" height="25.0" rx="5" fill="#fde7d8" stroke="#e8832f" stroke-width="2" />
<rect x="950.2" y="682" width="25.0" height="25.0" rx="5" fill="none" stroke="#e8141a" stroke-width="2.4" stroke-dasharray="5 3"/>
<text x="909.8" y="791" font-family="'Liberation Serif', serif" font-style="italic" font-size="33.02" fill="#000">F</text>
<text x="928.8" y="799" font-family="'Liberation Serif', serif" font-style="italic" font-size="19.76" fill="#000">SSP</text>
<path d="M974.9,769.9 L989.1,777.4 L974.9,785.2 L960.6,777.4 Z M960.6,783.9 L974.9,791.7 L989.1,783.9 M960.6,777.4 L960.6,791.7 L974.9,797.9 L989.1,791.7 L989.1,777.4" fill="none" stroke="#b8860b" stroke-width="2.5" stroke-linejoin="round"/>
<rect x="1102.7" y="684.3" width="25.0" height="25.0" rx="5" fill="#f7bd8e" stroke="#9b86b0" stroke-width="2" />
<rect x="1129.7" y="684.3" width="25.0" height="25.0" rx="5" fill="#fdd35f" stroke="#9b86b0" stroke-width="2" />
<rect x="1156.7" y="684.3" width="25.0" height="25.0" rx="5" fill="#d98c8a" stroke="#9b86b0" stroke-width="2" />
<rect x="1102.7" y="711.3" width="25.0" height="25.0" rx="5" fill="#88c5d6" stroke="#9b86b0" stroke-width="2" />
<rect x="1129.7" y="711.3" width="25.0" height="25.0" rx="5" fill="#c3b6d3" stroke="#9b86b0" stroke-width="2" />
<rect x="1156.7" y="711.3" width="25.0" height="25.0" rx="5" fill="#bdd09a" stroke="#9b86b0" stroke-width="2" />
<rect x="1102.7" y="738.3" width="25.0" height="25.0" rx="5" fill="#b6b6b6" stroke="#9b86b0" stroke-width="2" />
<rect x="1129.7" y="738.3" width="25.0" height="25.0" rx="5" fill="#7e63a0" stroke="#9b86b0" stroke-width="2" />
<rect x="1156.7" y="738.3" width="25.0" height="25.0" rx="5" fill="#f7bd8e" stroke="#9b86b0" stroke-width="2" />
<rect x="1156.7" y="684.3" width="25.0" height="25.0" rx="5" fill="none" stroke="#e8141a" stroke-width="2.4" stroke-dasharray="5 3"/>
<text x="1096" y="792" font-family="'Liberation Serif', serif" font-size="32" font-weight="bold">D</text>
<text x="1119" y="792" font-family="'Liberation Serif', serif" font-size="32">[</text>
<text x="1131" y="792" font-family="'Liberation Serif', serif" font-size="32" font-style="italic">I</text>
<text x="1143" y="801" font-family="'Liberation Serif', serif" font-size="20" font-style="italic">max</text>
<text x="1179" y="792" font-family="'Liberation Serif', serif" font-size="32">]</text>
<path d="M962.5,683 C935,690 897,670 895,630 C893,590 910,560 945,552 C958,550 966,552 972.5,555.5" fill="none" stroke="#b8860b" stroke-width="3.5"/>
<polygon points="985.7,564.2 976.3,548.8 968.3,561.5" fill="#b8860b" stroke="none" stroke-width="0" />
<path d="M986,563 C1005,525 1045,495 1100,494 C1160,494 1199,540 1199,598 C1199,628 1190,652 1178.5,670" fill="none" stroke="#d5827f" stroke-width="3"/>
<polygon points="1172.6,683.0 1169.7,668.4 1185.6,674.2" fill="#d5827f" stroke="none" stroke-width="0" />
<path d="M983,538 L990,550 L1005,531" fill="none" stroke="#22aa33" stroke-width="3.5" stroke-linecap="round" stroke-linejoin="round"/>
<g transform="translate(934,531) rotate(-32.4)"><rect x="-53" y="-14.5" width="106" height="29" rx="3" fill="#fbbd10"/>
<text x="2" y="7" font-family="'Liberation Sans', sans-serif" font-size="20" font-weight="bold" fill="#7b2a1a" text-anchor="middle" textLength="95" lengthAdjust="spacingAndGlyphs">Max index</text></g>
<path d="M866,555 C866,548 871,544.5 876.5,545.5 C882,547 884,555 884,562 C884,567 884.3,571 885.3,574.5 L896.5,563" fill="none" stroke="#2a2018" stroke-width="8.2" stroke-linecap="round" stroke-linejoin="round"/>
<path d="M866,555 C866,548 871,544.5 876.5,545.5 C882,547 884,555 884,562 C884,567 884.3,571 885.3,574.5 L896.5,563" fill="none" stroke="#f6c463" stroke-width="6" stroke-linecap="round" stroke-linejoin="round"/>
<path d="M869.5,569 L874,564.5 L880.5,571 C879,575.5 875,576.5 872,574.5 Z" fill="#f28294" stroke="#2a2018" stroke-width="0.8"/>
<path d="M869.5,569 L874,564.5" stroke="#7b86e0" stroke-width="1.8"/>
<path d="M879,574 L883,580" stroke="#5a5ab0" stroke-width="1.4"/>
<g transform="translate(1211.5,531) rotate(53.3)"><rect x="-37" y="-13.5" width="74" height="27" rx="3" fill="#fbbd10"/>
<text x="3" y="7" font-family="'Liberation Sans', sans-serif" font-size="20" font-weight="bold" fill="#7b2a1a" text-anchor="middle" textLength="68" lengthAdjust="spacingAndGlyphs">Replace</text></g>
<path d="M1183.5,495 C1181,503 1188,510.5 1195,507 C1199,505 1201,501 1203.5,499 C1208,496.5 1209.5,490 1206,487" fill="none" stroke="#2a1a40" stroke-width="7.6" stroke-linecap="round" stroke-linejoin="round"/>
<path d="M1183.5,495 C1181,503 1188,510.5 1195,507 C1199,505 1201,501 1203.5,499 C1208,496.5 1209.5,490 1206,487" fill="none" stroke="#9373d8" stroke-width="5.6" stroke-linecap="round" stroke-linejoin="round"/>
<path d="M1188,491 C1188,487 1193,486 1194.5,489.5 L1192,495 Z" fill="#ef7a62" stroke="#2a1a40" stroke-width="0.8"/>
<ellipse cx="1191" cy="496.5" rx="3" ry="2.3" fill="#f2c040" stroke="#2a1a40" stroke-width="0.7"/>
<text x="1251.6" y="644" font-family="'Liberation Serif', serif" font-style="italic" font-size="33.02" fill="#000">F</text>
<text x="1270.6" y="652" font-family="'Liberation Serif', serif" font-style="italic" font-size="19.76" fill="#000">SSP</text>
<path d="M1224.3,621.9 L1238.5,629.4 L1224.3,637.2 L1210.0,629.4 Z M1210.0,635.9 L1224.3,643.7 L1238.5,635.9 M1210.0,629.4 L1210.0,643.7 L1224.3,649.9 L1238.5,643.7 L1238.5,629.4" fill="none" stroke="#b8860b" stroke-width="2.5" stroke-linejoin="round"/>
<polyline points="1223.3,654.0 1223.3,693.4" fill="none" stroke="#b8860b" stroke-width="3.2" stroke-linejoin="round" />
<polygon points="1223.3,710.4 1215.3,692.4 1231.3,692.4" fill="#b8860b" stroke="none" stroke-width="0" />
<circle cx="1223" cy="725.7" r="13.2" fill="none" stroke="#222" stroke-width="2.6"/>
<path d="M1215.74,725.7 L1230.26,725.7 M1223,718.44 L1223,732.96" stroke="#222" stroke-width="2.3400000000000003" stroke-linecap="round"/>
<polyline points="1183.0,722.0 1193.0,722.8" fill="none" stroke="#d5827f" stroke-width="3.2" stroke-linejoin="round" />
<polygon points="1208.0,724.0 1191.5,730.2 1192.6,715.2" fill="#d5827f" stroke="none" stroke-width="0" />
<polyline points="1243.0,725.0 1369.0,725.0" fill="none" stroke="#d5827f" stroke-width="3.2" stroke-linejoin="round" />
<polygon points="1386.0,725.0 1368.0,733.0 1368.0,717.0" fill="#d5827f" stroke="none" stroke-width="0" />
<text x="1288.8" y="753" font-family="'Liberation Serif', serif" font-style="italic" font-size="33.02" fill="#000">F</text>
<text x="1307.8" y="761" font-family="'Liberation Serif', serif" font-style="italic" font-size="19.76" fill="#000">ATP</text>
<text x="1285" y="715" font-family="'Liberation Sans', sans-serif" font-size="30" font-weight="bold" font-style="normal" fill="#d98886" text-anchor="start" textLength="49.7" lengthAdjust="spacingAndGlyphs" >Fine</text>
<path d="M1355.8,691.2 L1369.8,698.9 L1355.8,706.9 L1341.8,698.9 Z M1341.8,705.5 L1355.8,713.5 L1369.8,705.5 M1341.8,698.9 L1341.8,713.5 L1355.8,719.8 L1369.8,713.5 L1369.8,698.9" fill="none" stroke="#d98886" stroke-width="2.5" stroke-linejoin="round"/>
<rect x="1811" y="14.4" width="266.6" height="321.6" rx="5" fill="#fff" stroke="#888" stroke-width="1.3" stroke-dasharray="5 3"/>
<path d="M1844.0,20.8 L1860.2,28.5 L1844.0,36.5 L1827.8,28.5 Z M1827.8,35.1 L1844.0,43.1 L1860.2,35.1 M1827.8,28.5 L1827.8,43.1 L1844.0,49.5 L1860.2,43.1 L1860.2,28.5" fill="none" stroke="#2b7b90" stroke-width="2.5" stroke-linejoin="round"/>
<text x="1865.8" y="46" font-family="'Liberation Serif', serif" font-style="italic" font-size="34.08" fill="#000">F</text>
<text x="1883.8" y="54" font-family="'Liberation Serif', serif" font-style="italic" font-size="20.8" fill="#000" textLength="44" lengthAdjust="spacingAndGlyphs">latent</text>
<path d="M1844.0,85.0 L1860.2,93.3 L1844.0,101.9 L1827.8,93.3 Z M1827.8,100.4 L1844.0,109.0 L1860.2,100.4 M1827.8,93.3 L1827.8,109.0 L1844.0,115.8 L1860.2,109.0 L1860.2,93.3" fill="none" stroke="#c99212" stroke-width="2.5" stroke-linejoin="round"/>
<text x="1866.8" y="111" font-family="'Liberation Serif', serif" font-style="italic" font-size="34.08" fill="#000">F</text>
<text x="1885.8" y="120" font-family="'Liberation Serif', serif" font-style="italic" font-size="19.76" fill="#000">SSP</text>
<path d="M1844.0,153.2 L1860.2,161.2 L1844.0,169.5 L1827.8,161.2 Z M1827.8,168.0 L1844.0,176.3 L1860.2,168.0 M1827.8,161.2 L1827.8,176.3 L1844.0,182.8 L1860.2,176.3 L1860.2,161.2" fill="none" stroke="#e0a09c" stroke-width="2.5" stroke-linejoin="round"/>
<text x="1866.8" y="177" font-family="'Liberation Serif', serif" font-style="italic" font-size="34.08" fill="#000">F</text>
<text x="1885.8" y="186" font-family="'Liberation Serif', serif" font-style="italic" font-size="19.76" fill="#000">ATP</text>
<rect x="1944.5" y="22.4" width="23" height="29.2" rx="10" fill="#fde9a8" stroke="#fcd871" stroke-width="2" />
<text x="1956" y="43" font-family="'Liberation Sans', sans-serif" font-size="14" font-style="italic" fill="#6b4e08" text-anchor="middle">C</text>
<text x="1979" y="46" font-family="'Liberation Sans', sans-serif" font-size="20" font-weight="normal" font-style="normal" fill="#000" text-anchor="start" textLength="57" lengthAdjust="spacingAndGlyphs" stroke="#000" stroke-width="0.6">Concat</text>
<rect x="1943.3" y="87.5" width="23" height="29.2" rx="10" fill="#bdd39b" stroke="#6f9a3f" stroke-width="2" />
<text x="1955" y="108" font-family="'Liberation Sans', sans-serif" font-size="14" font-style="italic" fill="#3d5a1c" text-anchor="middle">A</text>
<text x="1981" y="110.5" font-family="'Liberation Sans', sans-serif" font-size="20" font-weight="normal" font-style="normal" fill="#000" text-anchor="start" textLength="83" lengthAdjust="spacingAndGlyphs" stroke="#000" stroke-width="0.6">Attention</text>
<g transform="translate(1937,145) scale(0.8)">
<path d="M6,13 C6,10 8,9 10,8 L18,4.5 C20,4 22,4 24,4 L42,6.5 C44.5,7 45.7,8.5 45.7,11 L45.7,35 C45.7,37 44.5,38 43,39 L40,41 C39,43.5 37,44.8 34,44.6 L8,42 C4.5,41.5 3.2,39.5 4.5,37.5 L6,36 Z" fill="#7dcdf5" stroke="#1b3a73" stroke-width="2" stroke-linejoin="round"/>
<path d="M32,15 L45,8.5 L45.5,35 C45,37 43,38.5 40.5,39.5 L32,40 Z" fill="#2aa6ef"/>
<path d="M7,13 L19,6 L43,8 L32,15 Z" fill="#bfe8fb"/>
<ellipse cx="25" cy="10.5" rx="8" ry="2" fill="#5cc0f2"/>
<path d="M6,37.5 C12,40 28,41 40,40.5" fill="none" stroke="#c7ecfc" stroke-width="2.6"/>
<circle cx="13.4" cy="24.5" r="1.5" fill="#1b3a73"/><circle cx="24" cy="25.3" r="1.5" fill="#1b3a73"/>
<path d="M16.5,29 Q18.5,32 21,29.3" fill="none" stroke="#1b3a73" stroke-width="1.2"/>
<ellipse cx="10" cy="28.7" rx="2" ry="0.9" fill="#e8f7fe"/><ellipse cx="27.3" cy="29.5" rx="2" ry="0.9" fill="#e8f7fe"/>
</g>
<text x="1986" y="175" font-family="'Liberation Sans', sans-serif" font-size="20" font-weight="normal" font-style="normal" fill="#000" text-anchor="start" textLength="59" lengthAdjust="spacingAndGlyphs" stroke="#000" stroke-width="0.6">Frozen</text>
<polyline points="1826.5,227.0 1915.0,227.0" fill="none" stroke="#c0443c" stroke-width="3" stroke-linejoin="round" stroke-dasharray="9 5"/>
<polygon points="1930.6,227.0 1914.0,219.0 1914.0,235.0" fill="#c0443c" stroke="none" stroke-width="0" />
<text x="1938.4" y="234.5" font-family="'Liberation Sans', sans-serif" font-size="20" font-weight="normal" font-style="normal" fill="#c0443c" text-anchor="start" textLength="38" lengthAdjust="spacingAndGlyphs" stroke="#c0443c" stroke-width="0.6">Loss</text>
<circle cx="1837" cy="271" r="10.5" fill="none" stroke="#000" stroke-width="2.2"/>
<path d="M1833.22,267.22 L1840.78,274.78 M1833.22,274.78 L1840.78,267.22" stroke="#000" stroke-width="2.53" stroke-linecap="round"/>
<circle cx="1837" cy="311" r="10.5" fill="none" stroke="#000" stroke-width="2.2"/>
<path d="M1831.225,311 L1842.775,311 M1837,305.225 L1837,316.775" stroke="#000" stroke-width="1.9800000000000002" stroke-linecap="round"/>
<text x="1861.6" y="278.4" font-family="'Liberation Sans', sans-serif" font-size="20" font-weight="normal" font-style="normal" fill="#000" text-anchor="start" textLength="184" lengthAdjust="spacingAndGlyphs" stroke="#000" stroke-width="0.6">Element-wise Product</text>
<text x="1861.6" y="318.4" font-family="'Liberation Sans', sans-serif" font-size="20" font-weight="normal" font-style="normal" fill="#000" text-anchor="start" textLength="154" lengthAdjust="spacingAndGlyphs" stroke="#000" stroke-width="0.6">Element-wise Sum</text>
<path d="M1801.7,390.7 Q1801.7,376.7 1815.7,375.6 L2066.6,355.1 Q2080.6,354.0 2080.6,368.0 L2080.6,598.0 Q2080.6,612.0 2066.6,611.0 L1815.7,593.0 Q1801.7,592.0 1801.7,578.0 Z" fill="#e6f2f7" />
<path d="M1819.4,443.5 Q1819.4,433.5 1829.3,432.2 L1880.3,425.3 Q1890.2,424.0 1890.2,434.0 L1890.2,531.0 Q1890.2,541.0 1880.3,540.0 L1829.3,534.7 Q1819.4,533.7 1819.4,523.7 Z" fill="#88c5d7" />
<path d="M1900.0,421.8 Q1900.0,411.8 1909.8,410.0 L1962.9,400.3 Q1972.7,398.5 1972.7,408.5 L1972.7,560.5 Q1972.7,570.5 1962.9,568.7 L1909.8,558.8 Q1900.0,557.0 1900.0,547.0 Z" fill="#88c5d7" />
<path d="M1982.7,398.4 Q1982.7,388.4 1992.2,385.4 L2048.4,368.0 Q2057.9,365.0 2057.9,375.0 L2057.9,590.5 Q2057.9,600.5 2048.2,597.9 L1992.4,583.1 Q1982.7,580.5 1982.7,570.5 Z" fill="#88c5d7" />
<polyline points="1777.0,481.0 1801.4,481.0" fill="none" stroke="#7b5c9b" stroke-width="3.5" stroke-linejoin="round" />
<polygon points="1817.4,481.0 1800.4,489.5 1800.4,472.5" fill="#7b5c9b" stroke="none" stroke-width="0" />
<text x="1933" y="384.5" font-family="'Liberation Sans', sans-serif" font-size="28.5" font-weight="bold" font-style="normal" fill="#2b7b90" text-anchor="start" textLength="146" lengthAdjust="spacingAndGlyphs" >SR Decoder</text>
<text x="1816.8" y="574" font-family="'Liberation Serif', serif" font-style="italic" font-size="33.02" fill="#000">D</text>
<text x="1838.8" y="583" font-family="'Liberation Serif', serif" font-style="italic" font-size="20.8" fill="#000">sr</text>
<text x="2066" y="466" font-family="'Liberation Serif', serif" font-size="32" font-style="italic">I</text>
<path d="M2074,439.7 L2078.3,435 L2082.7,439.7" fill="none" stroke="#000" stroke-width="1.7"/>
<text x="2082" y="474.8" font-family="'Liberation Serif', serif" font-size="20" font-style="italic">sr</text>
<polyline points="2060.0,483.0 2086.5,483.0 2086.5,722.2 2075.0,722.2" fill="none" stroke="#86c4d7" stroke-width="3.4" stroke-linejoin="round" />
<polyline points="2076.0,722.2 2074.6,722.2" fill="none" stroke="#86c4d7" stroke-width="3" stroke-linejoin="round" />
<polygon points="2058.6,722.2 2075.6,714.2 2075.6,730.2" fill="#86c4d7" stroke="none" stroke-width="0" />
<g clip-path="url(#clipSR)"><g transform="translate(1880,630) scale(0.206)">
<rect x="0" y="0" width="900" height="900" fill="#333618"/>
<g filter="url(#blurSR)">
<ellipse cx="80" cy="250" rx="80" ry="200" fill="#5a6030"/>
<ellipse cx="60" cy="520" rx="60" ry="120" fill="#4c5228"/>
<ellipse cx="820" cy="220" rx="60" ry="140" fill="#6a6e36"/>
<ellipse cx="800" cy="560" rx="80" ry="160" fill="#5a5e2c"/>
<ellipse cx="740" cy="720" rx="60" ry="80" fill="#4e5226"/>
<path d="M150,30 L790,30 C830,120 800,250 780,400 C770,480 760,530 740,540 L640,420 L200,360 L130,380 C120,250 110,150 150,30 Z" fill="#17110d"/>
<path d="M20,900 L20,790 C100,775 180,765 250,760 L600,745 C660,760 710,800 740,900 Z" fill="#8a9fc2"/>
<path d="M240,640 L620,630 L615,760 L600,900 L245,900 L240,780 Z" fill="#a26a4e"/>
<path d="M300,800 C360,840 500,840 560,800 L580,900 L280,900 Z" fill="#b07a5c" opacity="0.7"/>
<ellipse cx="145" cy="400" rx="40" ry="120" fill="#c0866a"/>
<ellipse cx="695" cy="420" rx="30" ry="85" fill="#9e6448"/>
<path d="M195,300 C200,190 270,110 350,100 C430,92 520,110 560,140 C620,170 670,230 680,320 C690,440 660,560 610,650 C560,730 490,775 425,775 C350,775 280,730 240,650 C200,560 190,420 195,300 Z" fill="#b87a5c"/>
<path d="M260,200 C300,140 420,120 520,150 C600,180 640,260 630,360 C620,470 580,600 520,680 C480,720 380,730 330,690 C270,630 240,520 240,400 C240,300 245,240 260,200 Z" fill="#c88e70"/>
<path d="M560,140 C600,150 640,190 660,230 L690,300 C670,250 620,200 560,170 Z" fill="#17110d"/>
<path d="M225,285 C270,262 340,262 395,292" stroke="#2a1a12" stroke-width="22" fill="none" stroke-linecap="round"/>
<path d="M490,295 C540,272 605,275 655,305" stroke="#2a1a12" stroke-width="22" fill="none" stroke-linecap="round"/>
<ellipse cx="315" cy="338" rx="50" ry="14" fill="#6a4636"/><ellipse cx="565" cy="352" rx="50" ry="14" fill="#6a4636"/>
<ellipse cx="445" cy="430" rx="40" ry="90" fill="#d49a7c" opacity="0.7"/>
<path d="M395,480 C420,505 470,505 495,480" stroke="#8a5440" stroke-width="12" fill="none"/>
<path d="M320,590 C380,570 460,570 520,595 C470,628 380,628 320,590 Z" fill="#a85656"/>
<path d="M250,690 C330,770 500,780 600,680" stroke="#6a3e2c" stroke-width="12" fill="none"/>
</g></g></g>
<text x="1954.6" y="842.8" font-family="'Liberation Sans', sans-serif" font-size="28" font-weight="bold" font-style="normal" fill="#000" text-anchor="start" textLength="33.2" lengthAdjust="spacingAndGlyphs" >SR</text>
<path d="M1882,805 C1874,798 1862,795 1852,797 C1842,800 1838,810 1836.5,824" fill="none" stroke="#c0443c" stroke-width="3.4" stroke-dasharray="9 8" stroke-linecap="round"/>
<polygon points="1837.3,838.7 1827.8,823.9 1844.0,822.3" fill="#c0443c" stroke="none" stroke-width="0" />
<text x="1806" y="877.2" font-family="'Liberation Sans', sans-serif" font-size="23" font-weight="bold" font-style="normal" fill="#c0443c" text-anchor="start" textLength="234.5" lengthAdjust="spacingAndGlyphs" >Super-Resolution Loss</text>
<g clip-path="url(#clipLR)"><g transform="translate(50,540) scale(0.2116)">
<rect x="0" y="0" width="900" height="900" fill="#38371e"/>
<g filter="url(#blurLR)">
<ellipse cx="60" cy="620" rx="90" ry="260" fill="#46441f"/>
<ellipse cx="830" cy="220" rx="55" ry="140" fill="#6c6a32"/>
<ellipse cx="790" cy="620" rx="100" ry="170" fill="#57552a"/>
<ellipse cx="440" cy="230" rx="330" ry="230" fill="#17120e"/>
<ellipse cx="690" cy="380" rx="110" ry="200" fill="#17120e"/>
<path d="M40,900 L40,820 C120,790 200,780 280,775 L560,775 C640,790 700,820 730,900 Z" fill="#8a98b4"/>
<rect x="250" y="640" width="320" height="260" fill="#b88062"/>
<ellipse cx="425" cy="445" rx="238" ry="335" fill="#cc9274"/>
<ellipse cx="430" cy="190" rx="150" ry="70" fill="#c08a6e" opacity="0.7"/>
<ellipse cx="300" cy="470" rx="80" ry="70" fill="#cc8470" opacity="0.5"/>
<ellipse cx="560" cy="470" rx="80" ry="70" fill="#cc8470" opacity="0.5"/>
<ellipse cx="320" cy="320" rx="85" ry="40" fill="#6a4e44"/>
<ellipse cx="560" cy="330" rx="85" ry="40" fill="#6a4e44"/>
<ellipse cx="440" cy="420" rx="40" ry="90" fill="#a87460" opacity="0.5"/>
<ellipse cx="420" cy="590" rx="80" ry="34" fill="#ac4a48"/>
</g></g></g>
<text x="17.8" y="680" font-family="'Liberation Serif', serif" font-style="italic" font-size="35.14" fill="#000">I</text>
<text x="32.8" y="688.8" font-family="'Liberation Serif', serif" font-style="italic" font-size="21.84" fill="#000">lr</text>
<text x="130.3" y="755.6" font-family="'Liberation Sans', sans-serif" font-size="29" font-weight="bold" font-style="normal" fill="#000" text-anchor="start" textLength="29.3" lengthAdjust="spacingAndGlyphs" >LR</text>
</svg>
</body></html>
